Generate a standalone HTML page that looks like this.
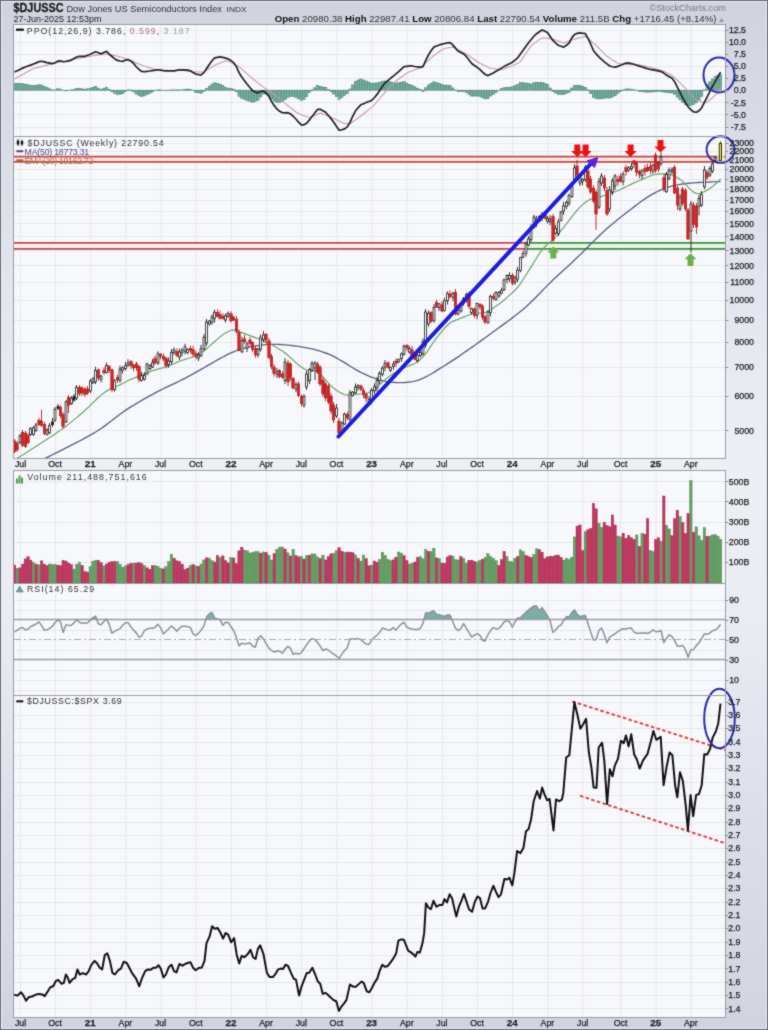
<!DOCTYPE html><html><head><meta charset="utf-8"><title>$DJUSSC Dow Jones US Semiconductors Index</title><style>html,body{margin:0;padding:0;background:#dcdfe8;}svg{display:block;}</style></head><body><svg width="768" height="1030" viewBox="0 0 768 1030" font-family="Liberation Sans, Arial, sans-serif" font-size="9.5" fill="#333"><defs><filter id="soft" x="0" y="0" width="1" height="1" color-interpolation-filters="sRGB"><feConvolveMatrix order="3" kernelMatrix="1 2 1 2 16 2 1 2 1" divisor="28" edgeMode="duplicate"/></filter><clipPath id="cppo"><rect x="14" y="25" width="711" height="111"/></clipPath><clipPath id="cpr"><rect x="14" y="137" width="711" height="321"/></clipPath><clipPath id="cvol"><rect x="14" y="471" width="711" height="112"/></clipPath><clipPath id="crsi"><rect x="14" y="584" width="711" height="111"/></clipPath><clipPath id="crat"><rect x="14" y="696" width="711" height="321"/></clipPath></defs><g filter="url(#soft)"><linearGradient id="bgg" x1="0" y1="0" x2="0" y2="1"><stop offset="0" stop-color="#d0d3de"/><stop offset="0.05" stop-color="#d4d7e2"/><stop offset="0.29" stop-color="#e3e6ee"/><stop offset="0.45" stop-color="#edeff5"/><stop offset="0.6" stop-color="#eaecf3"/><stop offset="0.78" stop-color="#dde0ea"/><stop offset="0.97" stop-color="#d3d6e1"/><stop offset="1" stop-color="#d0d3de"/></linearGradient><rect x="0" y="0" width="768" height="1030" fill="url(#bgg)"/><rect x="0.5" y="0.5" width="767" height="1029" fill="none" stroke="#666b78" stroke-width="1"/><rect x="1.5" y="1.5" width="765" height="1027" fill="none" stroke="#eceef3" stroke-width="1"/><rect x="13.5" y="24.5" width="712.0" height="112.0" fill="#f7f8fb"/><rect x="13.5" y="136.5" width="712.0" height="322.0" fill="#f7f8fb"/><rect x="13.5" y="470.5" width="712.0" height="113.0" fill="#f7f8fb"/><rect x="13.5" y="583.5" width="712.0" height="112.0" fill="#f7f8fb"/><rect x="13.5" y="695.5" width="712.0" height="322.0" fill="#f7f8fb"/><g stroke="#e6e7ec" stroke-width="1"><line x1="20.33" y1="24.5" x2="20.33" y2="136.5"/><line x1="55.5" y1="24.5" x2="55.5" y2="136.5"/><line x1="90.67" y1="24.5" x2="90.67" y2="136.5"/><line x1="125.83" y1="24.5" x2="125.83" y2="136.5"/><line x1="161" y1="24.5" x2="161" y2="136.5"/><line x1="196.17" y1="24.5" x2="196.17" y2="136.5"/><line x1="231.34" y1="24.5" x2="231.34" y2="136.5"/><line x1="266.51" y1="24.5" x2="266.51" y2="136.5"/><line x1="301.68" y1="24.5" x2="301.68" y2="136.5"/><line x1="336.85" y1="24.5" x2="336.85" y2="136.5"/><line x1="372.02" y1="24.5" x2="372.02" y2="136.5"/><line x1="407.19" y1="24.5" x2="407.19" y2="136.5"/><line x1="442.35" y1="24.5" x2="442.35" y2="136.5"/><line x1="477.52" y1="24.5" x2="477.52" y2="136.5"/><line x1="512.69" y1="24.5" x2="512.69" y2="136.5"/><line x1="547.86" y1="24.5" x2="547.86" y2="136.5"/><line x1="583.03" y1="24.5" x2="583.03" y2="136.5"/><line x1="620.9" y1="24.5" x2="620.9" y2="136.5"/><line x1="656.07" y1="24.5" x2="656.07" y2="136.5"/><line x1="691.24" y1="24.5" x2="691.24" y2="136.5"/></g><g stroke="#e6e7ec" stroke-width="1"><line x1="13.5" y1="30.5" x2="725.5" y2="30.5"/><line x1="13.5" y1="42.5" x2="725.5" y2="42.5"/><line x1="13.5" y1="54.5" x2="725.5" y2="54.5"/><line x1="13.5" y1="66.5" x2="725.5" y2="66.5"/><line x1="13.5" y1="78.5" x2="725.5" y2="78.5"/><line x1="13.5" y1="90.5" x2="725.5" y2="90.5"/><line x1="13.5" y1="102.5" x2="725.5" y2="102.5"/><line x1="13.5" y1="114.5" x2="725.5" y2="114.5"/><line x1="13.5" y1="127.5" x2="725.5" y2="127.5"/></g><g clip-path="url(#cppo)"><g fill="#79b3a3" stroke="#3f7a68" stroke-width="0.55"><rect x="13.42" y="83.2" width="2.2" height="7"/><rect x="16.12" y="83.38" width="2.2" height="6.82"/><rect x="18.83" y="83.58" width="2.2" height="6.62"/><rect x="21.53" y="83.77" width="2.2" height="6.43"/><rect x="24.24" y="84.15" width="2.2" height="6.05"/><rect x="26.94" y="84.74" width="2.2" height="5.46"/><rect x="29.65" y="85.33" width="2.2" height="4.87"/><rect x="32.35" y="85.71" width="2.2" height="4.49"/><rect x="35.06" y="85.23" width="2.2" height="4.97"/><rect x="37.76" y="84.74" width="2.2" height="5.46"/><rect x="40.47" y="84.98" width="2.2" height="5.22"/><rect x="43.18" y="86.3" width="2.2" height="3.9"/><rect x="45.88" y="87.63" width="2.2" height="2.57"/><rect x="48.59" y="88.83" width="2.2" height="1.37"/><rect x="51.29" y="89.9" width="2.2" height="0.6"/><rect x="54" y="89.83" width="2.2" height="0.37"/><rect x="56.7" y="88.82" width="2.2" height="1.38"/><rect x="59.41" y="89" width="2.2" height="1.2"/><rect x="62.11" y="90.2" width="2.2" height="0.32"/><rect x="64.82" y="90.2" width="2.2" height="0.62"/><rect x="67.52" y="90.2" width="2.2" height="0.51"/><rect x="70.23" y="89.9" width="2.2" height="0.6"/><rect x="72.93" y="89.48" width="2.2" height="0.72"/><rect x="75.64" y="88.5" width="2.2" height="1.7"/><rect x="78.34" y="88.33" width="2.2" height="1.87"/><rect x="81.05" y="88.82" width="2.2" height="1.38"/><rect x="83.75" y="89.28" width="2.2" height="0.92"/><rect x="86.46" y="88.76" width="2.2" height="1.44"/><rect x="89.17" y="88.13" width="2.2" height="2.07"/><rect x="91.87" y="87.29" width="2.2" height="2.91"/><rect x="94.58" y="86.6" width="2.2" height="3.6"/><rect x="97.28" y="88.11" width="2.2" height="2.09"/><rect x="99.99" y="89.63" width="2.2" height="0.57"/><rect x="102.69" y="88.66" width="2.2" height="1.54"/><rect x="105.4" y="87.21" width="2.2" height="2.99"/><rect x="108.1" y="89.49" width="2.2" height="0.71"/><rect x="110.81" y="90.2" width="2.2" height="1.38"/><rect x="113.51" y="90.2" width="2.2" height="3.21"/><rect x="116.22" y="90.2" width="2.2" height="4.29"/><rect x="118.92" y="90.2" width="2.2" height="4"/><rect x="121.63" y="90.2" width="2.2" height="3.56"/><rect x="124.33" y="90.2" width="2.2" height="1.41"/><rect x="127.04" y="89.9" width="2.2" height="0.6"/><rect x="129.74" y="89.9" width="2.2" height="0.6"/><rect x="132.45" y="90.2" width="2.2" height="1.66"/><rect x="135.16" y="90.2" width="2.2" height="3.8"/><rect x="137.86" y="90.2" width="2.2" height="5.37"/><rect x="140.57" y="90.2" width="2.2" height="6.3"/><rect x="143.27" y="90.2" width="2.2" height="5.68"/><rect x="145.98" y="90.2" width="2.2" height="4.41"/><rect x="148.68" y="90.2" width="2.2" height="3.15"/><rect x="151.39" y="90.2" width="2.2" height="1.81"/><rect x="154.09" y="90.2" width="2.2" height="0.45"/><rect x="156.8" y="89.9" width="2.2" height="0.6"/><rect x="159.5" y="89.9" width="2.2" height="0.6"/><rect x="162.21" y="90.2" width="2.2" height="0.45"/><rect x="164.91" y="90.2" width="2.2" height="0.51"/><rect x="167.62" y="90.2" width="2.2" height="0.34"/><rect x="170.32" y="89.9" width="2.2" height="0.6"/><rect x="173.03" y="89.9" width="2.2" height="0.6"/><rect x="175.73" y="89.9" width="2.2" height="0.6"/><rect x="178.44" y="89.9" width="2.2" height="0.6"/><rect x="181.15" y="89.88" width="2.2" height="0.32"/><rect x="183.85" y="89.49" width="2.2" height="0.71"/><rect x="186.56" y="89.1" width="2.2" height="1.1"/><rect x="189.26" y="89.24" width="2.2" height="0.96"/><rect x="191.97" y="90.2" width="2.2" height="0.4"/><rect x="194.67" y="90.2" width="2.2" height="2.02"/><rect x="197.38" y="90.2" width="2.2" height="2.65"/><rect x="200.08" y="90.2" width="2.2" height="2.97"/><rect x="202.79" y="90.2" width="2.2" height="0.95"/><rect x="205.49" y="88.61" width="2.2" height="1.59"/><rect x="208.2" y="86.23" width="2.2" height="3.97"/><rect x="210.9" y="84.08" width="2.2" height="6.12"/><rect x="213.61" y="82.79" width="2.2" height="7.41"/><rect x="216.31" y="83.5" width="2.2" height="6.7"/><rect x="219.02" y="84.13" width="2.2" height="6.07"/><rect x="221.72" y="85.6" width="2.2" height="4.6"/><rect x="224.43" y="87.48" width="2.2" height="2.72"/><rect x="227.14" y="88.14" width="2.2" height="2.06"/><rect x="229.84" y="88.42" width="2.2" height="1.78"/><rect x="232.55" y="89.16" width="2.2" height="1.04"/><rect x="235.25" y="90.2" width="2.2" height="1.56"/><rect x="237.96" y="90.2" width="2.2" height="6.11"/><rect x="240.66" y="90.2" width="2.2" height="8"/><rect x="243.37" y="90.2" width="2.2" height="9.2"/><rect x="246.07" y="90.2" width="2.2" height="10.35"/><rect x="248.78" y="90.2" width="2.2" height="11.13"/><rect x="251.48" y="90.2" width="2.2" height="12.13"/><rect x="254.19" y="90.2" width="2.2" height="11.39"/><rect x="256.89" y="90.2" width="2.2" height="9.95"/><rect x="259.6" y="90.2" width="2.2" height="6.72"/><rect x="262.3" y="90.2" width="2.2" height="3.87"/><rect x="265.01" y="90.2" width="2.2" height="3.99"/><rect x="267.71" y="90.2" width="2.2" height="5.25"/><rect x="270.42" y="90.2" width="2.2" height="8.77"/><rect x="273.13" y="90.2" width="2.2" height="10.94"/><rect x="275.83" y="90.2" width="2.2" height="12.05"/><rect x="278.54" y="90.2" width="2.2" height="12.28"/><rect x="281.24" y="90.2" width="2.2" height="11.44"/><rect x="283.95" y="90.2" width="2.2" height="9.53"/><rect x="286.65" y="90.2" width="2.2" height="7.19"/><rect x="289.36" y="90.2" width="2.2" height="6.24"/><rect x="292.06" y="90.2" width="2.2" height="6.47"/><rect x="294.77" y="90.2" width="2.2" height="7.04"/><rect x="297.47" y="90.2" width="2.2" height="8.69"/><rect x="300.18" y="90.2" width="2.2" height="10.16"/><rect x="302.88" y="90.2" width="2.2" height="9.07"/><rect x="305.59" y="90.2" width="2.2" height="6.41"/><rect x="308.29" y="90.2" width="2.2" height="2.41"/><rect x="311" y="89.9" width="2.2" height="0.6"/><rect x="313.71" y="87.85" width="2.2" height="2.35"/><rect x="316.41" y="85.39" width="2.2" height="4.81"/><rect x="319.12" y="86.4" width="2.2" height="3.8"/><rect x="321.82" y="86.98" width="2.2" height="3.22"/><rect x="324.53" y="87.46" width="2.2" height="2.74"/><rect x="327.23" y="89.55" width="2.2" height="0.65"/><rect x="329.94" y="90.2" width="2.2" height="1.43"/><rect x="332.64" y="90.2" width="2.2" height="3.81"/><rect x="335.35" y="90.2" width="2.2" height="6.44"/><rect x="338.05" y="90.2" width="2.2" height="9.08"/><rect x="340.76" y="90.2" width="2.2" height="7.27"/><rect x="343.46" y="90.2" width="2.2" height="5.3"/><rect x="346.17" y="90.2" width="2.2" height="3.28"/><rect x="348.87" y="89.04" width="2.2" height="1.16"/><rect x="351.58" y="84.89" width="2.2" height="5.31"/><rect x="354.28" y="81.45" width="2.2" height="8.75"/><rect x="356.99" y="80.08" width="2.2" height="10.12"/><rect x="359.7" y="78.95" width="2.2" height="11.25"/><rect x="362.4" y="79.93" width="2.2" height="10.27"/><rect x="365.11" y="81" width="2.2" height="9.2"/><rect x="367.81" y="82.11" width="2.2" height="8.09"/><rect x="370.52" y="83.23" width="2.2" height="6.97"/><rect x="373.22" y="83.02" width="2.2" height="7.18"/><rect x="375.93" y="82.92" width="2.2" height="7.28"/><rect x="378.63" y="82.24" width="2.2" height="7.96"/><rect x="381.34" y="81.19" width="2.2" height="9.01"/><rect x="384.04" y="80.97" width="2.2" height="9.23"/><rect x="386.75" y="81.43" width="2.2" height="8.77"/><rect x="389.45" y="81.88" width="2.2" height="8.32"/><rect x="392.16" y="82.43" width="2.2" height="7.77"/><rect x="394.86" y="83" width="2.2" height="7.2"/><rect x="397.57" y="82.8" width="2.2" height="7.4"/><rect x="400.27" y="82.18" width="2.2" height="8.02"/><rect x="402.98" y="81.71" width="2.2" height="8.49"/><rect x="405.69" y="83.22" width="2.2" height="6.98"/><rect x="408.39" y="84.41" width="2.2" height="5.79"/><rect x="411.1" y="85.39" width="2.2" height="4.81"/><rect x="413.8" y="86.87" width="2.2" height="3.33"/><rect x="416.51" y="88.25" width="2.2" height="1.95"/><rect x="419.21" y="89.41" width="2.2" height="0.79"/><rect x="421.92" y="90.2" width="2.2" height="1.27"/><rect x="424.62" y="87.83" width="2.2" height="2.37"/><rect x="427.33" y="84.98" width="2.2" height="5.22"/><rect x="430.03" y="83.26" width="2.2" height="6.94"/><rect x="432.74" y="81.83" width="2.2" height="8.37"/><rect x="435.44" y="82.65" width="2.2" height="7.55"/><rect x="438.15" y="83.46" width="2.2" height="6.74"/><rect x="440.85" y="84.56" width="2.2" height="5.64"/><rect x="443.56" y="85.31" width="2.2" height="4.89"/><rect x="446.26" y="85.1" width="2.2" height="5.1"/><rect x="448.97" y="85.36" width="2.2" height="4.84"/><rect x="451.68" y="87.98" width="2.2" height="2.22"/><rect x="454.38" y="89.9" width="2.2" height="0.6"/><rect x="457.09" y="90.2" width="2.2" height="1.49"/><rect x="459.79" y="90.2" width="2.2" height="1.4"/><rect x="462.5" y="90.2" width="2.2" height="1.32"/><rect x="465.2" y="90.2" width="2.2" height="2.44"/><rect x="467.91" y="90.2" width="2.2" height="4.24"/><rect x="470.61" y="90.2" width="2.2" height="5.89"/><rect x="473.32" y="90.2" width="2.2" height="5.93"/><rect x="476.02" y="90.2" width="2.2" height="5.85"/><rect x="478.73" y="90.2" width="2.2" height="6.27"/><rect x="481.43" y="90.2" width="2.2" height="7.63"/><rect x="484.14" y="90.2" width="2.2" height="8.67"/><rect x="486.84" y="90.2" width="2.2" height="8.42"/><rect x="489.55" y="90.2" width="2.2" height="5.81"/><rect x="492.25" y="90.2" width="2.2" height="4.2"/><rect x="494.96" y="90.2" width="2.2" height="2.29"/><rect x="497.67" y="90.2" width="2.2" height="0.38"/><rect x="500.37" y="88.7" width="2.2" height="1.5"/><rect x="503.08" y="87.76" width="2.2" height="2.44"/><rect x="505.78" y="87.45" width="2.2" height="2.75"/><rect x="508.49" y="87.18" width="2.2" height="3.02"/><rect x="511.19" y="86.74" width="2.2" height="3.46"/><rect x="513.9" y="85.72" width="2.2" height="4.48"/><rect x="516.6" y="84.72" width="2.2" height="5.48"/><rect x="519.31" y="82.54" width="2.2" height="7.66"/><rect x="522.01" y="82.79" width="2.2" height="7.41"/><rect x="524.72" y="83.08" width="2.2" height="7.12"/><rect x="527.42" y="83.43" width="2.2" height="6.77"/><rect x="530.13" y="83.99" width="2.2" height="6.21"/><rect x="532.83" y="82.75" width="2.2" height="7.45"/><rect x="535.54" y="82.31" width="2.2" height="7.89"/><rect x="538.24" y="82.41" width="2.2" height="7.79"/><rect x="540.95" y="82.54" width="2.2" height="7.66"/><rect x="543.66" y="83.32" width="2.2" height="6.88"/><rect x="546.36" y="84.28" width="2.2" height="5.92"/><rect x="549.07" y="87.99" width="2.2" height="2.21"/><rect x="551.77" y="90.2" width="2.2" height="1.44"/><rect x="554.48" y="90.2" width="2.2" height="2.84"/><rect x="557.18" y="90.2" width="2.2" height="4.24"/><rect x="559.89" y="90.2" width="2.2" height="4.18"/><rect x="562.59" y="90.2" width="2.2" height="4.1"/><rect x="565.3" y="90.2" width="2.2" height="3.1"/><rect x="568" y="90.2" width="2.2" height="2.07"/><rect x="570.71" y="88" width="2.2" height="2.2"/><rect x="573.41" y="85.56" width="2.2" height="4.64"/><rect x="576.12" y="85.19" width="2.2" height="5.01"/><rect x="578.82" y="85.38" width="2.2" height="4.82"/><rect x="581.53" y="86.39" width="2.2" height="3.81"/><rect x="584.24" y="87.4" width="2.2" height="2.8"/><rect x="586.94" y="89.9" width="2.2" height="0.6"/><rect x="589.65" y="90.2" width="2.2" height="3.43"/><rect x="592.35" y="90.2" width="2.2" height="7.34"/><rect x="595.06" y="90.2" width="2.2" height="8.4"/><rect x="597.76" y="90.2" width="2.2" height="8.75"/><rect x="600.47" y="90.2" width="2.2" height="8.55"/><rect x="603.17" y="90.2" width="2.2" height="8.26"/><rect x="605.88" y="90.2" width="2.2" height="7.68"/><rect x="608.58" y="90.2" width="2.2" height="7.85"/><rect x="611.29" y="90.2" width="2.2" height="6.87"/><rect x="613.99" y="90.2" width="2.2" height="5.57"/><rect x="616.7" y="90.2" width="2.2" height="3.14"/><rect x="619.4" y="90.2" width="2.2" height="1.51"/><rect x="622.11" y="89.9" width="2.2" height="0.6"/><rect x="624.81" y="89.06" width="2.2" height="1.14"/><rect x="627.52" y="88.86" width="2.2" height="1.34"/><rect x="630.23" y="89.1" width="2.2" height="1.1"/><rect x="632.93" y="89.75" width="2.2" height="0.45"/><rect x="635.64" y="90.2" width="2.2" height="0.35"/><rect x="638.34" y="90.2" width="2.2" height="1.15"/><rect x="641.05" y="90.2" width="2.2" height="1.55"/><rect x="643.75" y="90.2" width="2.2" height="1.76"/><rect x="646.46" y="90.2" width="2.2" height="1.98"/><rect x="649.16" y="90.2" width="2.2" height="1.91"/><rect x="651.87" y="90.2" width="2.2" height="1.69"/><rect x="654.57" y="90.2" width="2.2" height="1.47"/><rect x="657.28" y="90.2" width="2.2" height="1.39"/><rect x="659.98" y="90.2" width="2.2" height="1.4"/><rect x="662.69" y="90.2" width="2.2" height="1.78"/><rect x="665.39" y="90.2" width="2.2" height="2.43"/><rect x="668.1" y="90.2" width="2.2" height="2.72"/><rect x="670.8" y="90.2" width="2.2" height="2.71"/><rect x="673.51" y="90.2" width="2.2" height="4.2"/><rect x="676.22" y="90.2" width="2.2" height="6.88"/><rect x="678.92" y="90.2" width="2.2" height="9.58"/><rect x="681.63" y="90.2" width="2.2" height="12.31"/><rect x="684.33" y="90.2" width="2.2" height="14.22"/><rect x="687.04" y="90.2" width="2.2" height="15.27"/><rect x="689.74" y="90.2" width="2.2" height="15.29"/><rect x="692.45" y="90.2" width="2.2" height="14.26"/><rect x="695.15" y="90.2" width="2.2" height="12.6"/><rect x="697.86" y="90.2" width="2.2" height="10.21"/><rect x="700.56" y="90.2" width="2.2" height="6.11"/><rect x="703.27" y="89.9" width="2.2" height="0.6"/><rect x="705.97" y="84.88" width="2.2" height="5.32"/><rect x="708.68" y="81.8" width="2.2" height="8.4"/><rect x="711.38" y="79.02" width="2.2" height="11.18"/><rect x="714.09" y="76.68" width="2.2" height="13.52"/><rect x="716.79" y="75.07" width="2.2" height="15.13"/><rect x="719.5" y="74.7" width="2.2" height="15.5"/></g><polyline points="14.52,79 17.22,77.58 19.93,76.06 22.63,74.55 25.34,73.03 28.04,71.51 30.75,69.99 33.45,68.49 36.16,67.82 38.86,67.15 41.57,66.48 44.28,65.82 46.98,65.15 49.69,64.48 52.39,63.81 55.1,63.15 57.8,62.52 60.51,61.98 63.21,61.43 65.92,60.89 68.62,60.35 71.33,59.8 74.03,59.26 76.74,58.72 79.44,58.17 82.15,57.68 84.85,57.22 87.56,56.76 90.27,56.3 92.97,55.83 95.68,55.37 98.38,54.91 101.09,54.45 103.79,54.01 106.5,54.38 109.2,54.75 111.91,55.11 114.61,55.48 117.32,56.16 120.02,56.99 122.73,57.82 125.43,58.66 128.14,59.59 130.84,60.71 133.55,61.83 136.26,62.95 138.96,64.07 141.67,65.16 144.37,66.06 147.08,66.96 149.78,67.86 152.49,68.76 155.19,69.66 157.9,69.87 160.6,70.04 163.31,70.21 166.01,70.39 168.72,70.56 171.42,70.73 174.13,70.87 176.83,70.33 179.54,69.79 182.25,70.14 184.95,70.67 187.66,71.21 190.36,71.74 193.07,72 195.77,72 198.48,72 201.18,72 203.89,71.71 206.59,70.11 209.3,68.5 212,66.9 214.71,65.29 217.41,64.11 220.12,63.02 222.82,61.94 225.53,60.85 228.24,60.97 230.94,62.34 233.65,63.7 236.35,65.07 239.06,66.61 241.76,69.04 244.47,71.47 247.17,73.89 249.88,76.32 252.58,78.53 255.29,80.71 257.99,82.88 260.7,85.05 263.4,87.08 266.11,88.98 268.81,90.88 271.52,92.77 274.23,94.72 276.93,96.87 279.64,99.03 282.34,101.18 285.05,103.34 287.75,105.49 290.46,107.64 293.16,109.79 295.87,111.94 298.57,113.55 301.28,114.64 303.98,115.73 306.69,116.81 309.39,117.5 312.1,116.41 314.81,115.33 317.51,114.24 320.22,113.15 322.92,113.93 325.63,115.02 328.33,116.11 331.04,117.19 333.74,118.43 336.45,119.79 339.15,121.16 341.86,122.52 344.56,123.6 347.27,123.6 349.97,123.6 352.68,121.72 355.38,119.83 358.09,117.93 360.8,116.03 363.5,113.95 366.21,111.78 368.91,109.61 371.62,107.43 374.32,104.91 377.03,101.7 379.73,98.49 382.44,95.28 385.14,92.07 387.85,89.33 390.55,86.6 393.26,83.87 395.96,81.14 398.67,78.96 401.37,77.06 404.08,75.17 406.79,73.27 409.49,71.7 412.2,70.77 414.9,69.85 417.61,68.92 420.31,67.99 423.02,65.4 425.72,62.81 428.43,60.22 431.13,57.63 433.84,55.51 436.54,53.62 439.25,51.72 441.95,49.82 444.66,48.44 447.36,47.98 450.07,47.52 452.78,47.06 455.48,48.27 458.19,49.71 460.89,51.14 463.6,52.58 466.3,54.02 469.01,55.77 471.71,57.66 474.42,59.56 477.12,61.45 479.83,63.16 482.53,64.5 485.24,65.84 487.94,67.18 490.65,68.51 493.35,68.78 496.06,69.06 498.77,69.34 501.47,69.61 504.18,68.95 506.88,67.86 509.59,66.77 512.29,65.69 515,64.55 517.7,63.33 520.41,61.69 523.11,57.62 525.82,53.55 528.52,49.48 531.23,45.65 533.93,43.64 536.64,41.62 539.34,39.6 542.05,37.72 544.76,38.04 547.46,38.36 550.17,38.69 552.87,39.03 555.58,40.03 558.28,41.04 560.99,42.05 563.69,43.06 566.4,42.12 569.1,41.11 571.81,40.09 574.51,39.07 577.22,38.38 579.92,37.71 582.63,37.04 585.34,36.37 588.04,38.43 590.75,40.79 593.45,43.15 596.16,45.51 598.86,48.16 601.57,50.87 604.27,53.57 606.98,56.28 609.68,58.16 612.39,59.85 615.09,61.54 617.8,63.22 620.5,63.77 623.21,63.99 625.91,64.21 628.62,64.44 631.33,64.59 634.03,64.71 636.74,64.84 639.44,64.96 642.15,65.46 644.85,66.14 647.56,66.81 650.26,67.49 652.97,68.17 655.67,68.85 658.38,69.54 661.08,70.22 663.79,71.3 666.49,72.67 669.2,74.03 671.9,75.4 674.61,77.5 677.32,80.18 680.02,82.86 682.73,85.54 685.43,88.4 688.14,91.45 690.84,94.51 693.55,97.56 696.25,99.67 698.96,100.68 701.66,101.68 704.37,102.69 707.07,102.35 709.78,99.97 712.48,97.59 715.19,95.21 717.89,92.06 720.6,87.6" fill="none" stroke="#c99aa6" stroke-width="1.1"/><polyline points="14.52,72 17.22,70.77 19.93,69.44 22.63,68.12 25.34,66.98 28.04,66.05 30.75,65.12 33.45,64 36.16,62.85 38.86,61.7 41.57,61.26 44.28,61.92 46.98,62.57 49.69,63.11 52.39,63.61 55.1,62.78 57.8,61.14 60.51,60.77 63.21,61.75 65.92,61.51 68.62,60.85 71.33,60.06 74.03,58.53 76.74,57.01 79.44,56.3 82.15,56.3 84.85,56.3 87.56,55.32 90.27,54.23 92.97,52.92 95.68,51.77 98.38,52.82 101.09,53.88 103.79,52.47 106.5,51.39 109.2,54.04 111.91,56.5 114.61,58.69 117.32,60.45 120.02,61 122.73,61.39 125.43,60.06 128.14,59.66 130.84,60.98 133.55,63.49 136.26,66.76 138.96,69.44 141.67,71.45 144.37,71.74 147.08,71.37 149.78,71.01 152.49,70.58 155.19,70.11 157.9,69.75 160.6,70.21 163.31,70.66 166.01,70.9 168.72,70.9 171.42,70.9 174.13,70.87 176.83,70.33 179.54,69.79 182.25,69.82 184.95,69.96 187.66,70.11 190.36,70.78 193.07,72.4 195.77,74.02 198.48,74.65 201.18,74.97 203.89,72.66 206.59,68.51 209.3,64.53 212,60.77 214.71,57.88 217.41,57.41 220.12,56.95 222.82,57.33 225.53,58.13 228.24,58.92 230.94,60.56 233.65,62.67 236.35,66.62 239.06,72.72 241.76,77.03 244.47,80.67 247.17,84.24 249.88,87.45 252.58,90.66 255.29,92.09 257.99,92.83 260.7,91.77 263.4,90.95 266.11,92.97 268.81,96.13 271.52,101.54 274.23,105.66 276.93,108.93 279.64,111.3 282.34,112.63 285.05,112.87 287.75,112.68 290.46,113.88 293.16,116.26 295.87,118.99 298.57,122.24 301.28,124.8 303.98,124.8 306.69,123.22 309.39,119.91 312.1,116.52 314.81,112.98 317.51,109.43 320.22,109.36 322.92,110.71 325.63,112.28 328.33,115.45 331.04,118.62 333.74,122.23 336.45,126.23 339.15,130.23 341.86,129.79 344.56,128.9 347.27,126.88 349.97,122.44 352.68,116.41 355.38,111.07 358.09,107.81 360.8,104.78 363.5,103.68 366.21,102.58 368.91,101.52 371.62,100.47 374.32,97.73 377.03,94.41 379.73,90.53 382.44,86.26 385.14,82.84 387.85,80.56 390.55,78.28 393.26,76.1 395.96,73.95 398.67,71.56 401.37,69.05 404.08,66.67 406.79,66.29 409.49,65.9 412.2,65.96 414.9,66.51 417.61,66.97 420.31,67.2 423.02,66.67 425.72,60.44 428.43,55 431.13,50.69 433.84,47.14 436.54,46.06 439.25,44.98 441.95,44.18 444.66,43.54 447.36,42.87 450.07,42.68 452.78,44.84 455.48,48.09 458.19,51.19 460.89,52.55 463.6,53.9 466.3,56.47 469.01,60.01 471.71,63.55 474.42,65.49 477.12,67.31 479.83,69.43 482.53,72.13 485.24,74.51 487.94,75.6 490.65,74.32 493.35,72.99 496.06,71.35 498.77,69.72 501.47,68.12 504.18,66.51 506.88,65.11 509.59,63.76 512.29,62.23 515,60.07 517.7,57.86 520.41,54.03 523.11,50.21 525.82,46.42 528.52,42.71 531.23,39.45 533.93,36.19 536.64,33.74 539.34,31.81 542.05,30.06 544.76,31.16 547.46,32.44 550.17,36.47 552.87,40.46 555.58,42.87 558.28,45.28 560.99,46.23 563.69,47.16 566.4,45.23 569.1,43.17 571.81,37.88 574.51,34.43 577.22,33.37 579.92,32.89 582.63,33.23 585.34,33.57 588.04,38.48 590.75,44.22 593.45,50.49 596.16,53.91 598.86,56.91 601.57,59.42 604.27,61.83 606.98,63.95 609.68,66.01 612.39,66.72 615.09,67.11 617.8,66.36 620.5,65.28 623.21,64.18 625.91,63.08 628.62,63.09 631.33,63.49 634.03,64.26 636.74,65.18 639.44,66.11 642.15,67.01 644.85,67.9 647.56,68.79 650.26,69.4 652.97,69.86 655.67,70.32 658.38,70.93 661.08,71.62 663.79,73.08 666.49,75.1 669.2,76.75 671.9,78.1 674.61,81.69 677.32,87.05 680.02,92.44 682.73,97.85 685.43,102.62 688.14,106.73 690.84,109.8 693.55,111.82 696.25,112.26 698.96,110.89 701.66,107.8 704.37,102.43 707.07,97.03 709.78,91.57 712.48,86.41 715.19,81.69 717.89,76.93 720.6,72.1" fill="none" stroke="#222" stroke-width="1.7" stroke-linejoin="round"/></g><g fill="#333"><rect x="16" y="28.6" width="7.8" height="2.2" fill="#111"/><text x="26.8" y="34" font-size="8.8" textLength="162.8" lengthAdjust="spacing" fill="#333">PPO(12,26,9) 3.786, <tspan fill="#b07080">0.599</tspan>, <tspan fill="#8aaa9a">3.187</tspan></text></g><ellipse cx="719" cy="75" rx="15.5" ry="17.5" fill="none" stroke="#2b2bb0" stroke-width="2"/><g stroke="#e6e7ec" stroke-width="1"><line x1="20.33" y1="136.5" x2="20.33" y2="458.5"/><line x1="55.5" y1="136.5" x2="55.5" y2="458.5"/><line x1="90.67" y1="136.5" x2="90.67" y2="458.5"/><line x1="125.83" y1="136.5" x2="125.83" y2="458.5"/><line x1="161" y1="136.5" x2="161" y2="458.5"/><line x1="196.17" y1="136.5" x2="196.17" y2="458.5"/><line x1="231.34" y1="136.5" x2="231.34" y2="458.5"/><line x1="266.51" y1="136.5" x2="266.51" y2="458.5"/><line x1="301.68" y1="136.5" x2="301.68" y2="458.5"/><line x1="336.85" y1="136.5" x2="336.85" y2="458.5"/><line x1="372.02" y1="136.5" x2="372.02" y2="458.5"/><line x1="407.19" y1="136.5" x2="407.19" y2="458.5"/><line x1="442.35" y1="136.5" x2="442.35" y2="458.5"/><line x1="477.52" y1="136.5" x2="477.52" y2="458.5"/><line x1="512.69" y1="136.5" x2="512.69" y2="458.5"/><line x1="547.86" y1="136.5" x2="547.86" y2="458.5"/><line x1="583.03" y1="136.5" x2="583.03" y2="458.5"/><line x1="620.9" y1="136.5" x2="620.9" y2="458.5"/><line x1="656.07" y1="136.5" x2="656.07" y2="458.5"/><line x1="691.24" y1="136.5" x2="691.24" y2="458.5"/></g><g stroke="#e6e7ec" stroke-width="1"><line x1="13.5" y1="430.5" x2="725.5" y2="430.5"/><line x1="13.5" y1="396.5" x2="725.5" y2="396.5"/><line x1="13.5" y1="367.5" x2="725.5" y2="367.5"/><line x1="13.5" y1="342.5" x2="725.5" y2="342.5"/><line x1="13.5" y1="320.5" x2="725.5" y2="320.5"/><line x1="13.5" y1="300.5" x2="725.5" y2="300.5"/><line x1="13.5" y1="282.5" x2="725.5" y2="282.5"/><line x1="13.5" y1="265.5" x2="725.5" y2="265.5"/><line x1="13.5" y1="250.5" x2="725.5" y2="250.5"/><line x1="13.5" y1="236.5" x2="725.5" y2="236.5"/><line x1="13.5" y1="223.5" x2="725.5" y2="223.5"/><line x1="13.5" y1="211.5" x2="725.5" y2="211.5"/><line x1="13.5" y1="200.5" x2="725.5" y2="200.5"/><line x1="13.5" y1="189.5" x2="725.5" y2="189.5"/><line x1="13.5" y1="179.5" x2="725.5" y2="179.5"/><line x1="13.5" y1="169.5" x2="725.5" y2="169.5"/><line x1="13.5" y1="160.5" x2="725.5" y2="160.5"/><line x1="13.5" y1="151.5" x2="725.5" y2="151.5"/><line x1="13.5" y1="143.5" x2="725.5" y2="143.5"/></g><g clip-path="url(#cpr)"><rect x="14" y="157" width="711" height="5" fill="#fbeaea"/><line x1="14" y1="156.7" x2="725" y2="156.7" stroke="#c84545" stroke-width="1.8"/><line x1="14" y1="161.8" x2="725" y2="161.8" stroke="#c84545" stroke-width="1.8"/><rect x="14" y="243" width="511" height="6" fill="#fcf1f1"/><rect x="525" y="243" width="200" height="6" fill="#e6f6e6"/><line x1="14" y1="242.9" x2="525" y2="242.9" stroke="#c84545" stroke-width="1.8"/><line x1="14" y1="248.9" x2="525" y2="248.9" stroke="#c84545" stroke-width="1.8"/><line x1="525" y1="242.9" x2="725" y2="242.9" stroke="#3f913f" stroke-width="1.8"/><line x1="525" y1="248.9" x2="725" y2="248.9" stroke="#3f913f" stroke-width="1.8"/><polyline points="38.86,461.56 41.57,460.19 44.28,458.83 46.98,457.47 49.69,456.11 52.39,454.76 55.1,453.4 57.8,452.05 60.51,450.7 63.21,449.34 65.92,447.97 68.62,446.6 71.33,445.21 74.03,443.82 76.74,442.42 79.44,441 82.15,439.56 84.85,438.09 87.56,436.61 90.27,435.12 92.97,433.61 95.68,432.01 98.38,430.29 101.09,428.48 103.79,426.58 106.5,424.59 109.2,422.51 111.91,420.42 114.61,418.32 117.32,416.21 120.02,414.18 122.73,412.23 125.43,410.36 128.14,408.58 130.84,406.87 133.55,405.25 136.26,403.63 138.96,402.02 141.67,400.41 144.37,398.84 147.08,397.31 149.78,395.8 152.49,394.32 155.19,392.87 157.9,391.46 160.6,390.08 163.31,388.76 166.01,387.45 168.72,386.17 171.42,384.89 174.13,383.61 176.83,382.3 179.54,380.99 182.25,379.65 184.95,378.28 187.66,376.88 190.36,375.44 193.07,373.96 195.77,372.43 198.48,370.88 201.18,369.33 203.89,367.76 206.59,366.19 209.3,364.62 212,363.05 214.71,361.5 217.41,359.96 220.12,358.45 222.82,356.99 225.53,355.58 228.24,354.2 230.94,352.92 233.65,351.76 236.35,350.72 239.06,349.77 241.76,348.94 244.47,348.19 247.17,347.51 249.88,346.91 252.58,346.42 255.29,345.99 257.99,345.58 260.7,345.21 263.4,344.89 266.11,344.61 268.81,344.42 271.52,344.32 274.23,344.32 276.93,344.36 279.64,344.46 282.34,344.6 285.05,344.8 287.75,345.06 290.46,345.39 293.16,345.72 295.87,346.07 298.57,346.45 301.28,346.87 303.98,347.34 306.69,347.85 309.39,348.38 312.1,348.95 314.81,349.59 317.51,350.31 320.22,351.13 322.92,352.03 325.63,352.99 328.33,354 331.04,355.16 333.74,356.47 336.45,357.92 339.15,359.48 341.86,361.07 344.56,362.69 347.27,364.33 349.97,366.01 352.68,367.71 355.38,369.34 358.09,370.86 360.8,372.28 363.5,373.58 366.21,374.82 368.91,376.01 371.62,377.09 374.32,378.08 377.03,378.97 379.73,379.78 382.44,380.5 385.14,381.1 387.85,381.59 390.55,381.97 393.26,382.25 395.96,382.46 398.67,382.59 401.37,382.59 404.08,382.47 406.79,382.28 409.49,382.02 412.2,381.69 414.9,381.14 417.61,380.38 420.31,379.41 423.02,378.24 425.72,376.93 428.43,375.52 431.13,373.99 433.84,372.35 436.54,370.62 439.25,368.92 441.95,367.24 444.66,365.55 447.36,363.87 450.07,362.17 452.78,360.42 455.48,358.64 458.19,356.82 460.89,354.96 463.6,353.06 466.3,351.16 469.01,349.26 471.71,347.36 474.42,345.45 477.12,343.53 479.83,341.59 482.53,339.65 485.24,337.69 487.94,335.72 490.65,333.75 493.35,331.76 496.06,329.78 498.77,327.8 501.47,325.84 504.18,323.88 506.88,321.93 509.59,319.94 512.29,317.9 515,315.83 517.7,313.7 520.41,311.51 523.11,309.27 525.82,306.91 528.52,304.44 531.23,301.84 533.93,299.18 536.64,296.46 539.34,293.69 542.05,290.92 544.76,288.15 547.46,285.39 550.17,282.69 552.87,280.05 555.58,277.47 558.28,274.95 560.99,272.5 563.69,270.09 566.4,267.65 569.1,265.17 571.81,262.66 574.51,260.1 577.22,257.52 579.92,254.89 582.63,252.23 585.34,249.54 588.04,246.82 590.75,244.09 593.45,241.36 596.16,238.68 598.86,236.06 601.57,233.51 604.27,231.02 606.98,228.59 609.68,226.22 612.39,223.91 615.09,221.67 617.8,219.5 620.5,217.34 623.21,215.21 625.91,213.09 628.62,211 631.33,208.92 634.03,206.86 636.74,204.8 639.44,202.76 642.15,200.76 644.85,198.87 647.56,197.09 650.26,195.4 652.97,193.81 655.67,192.34 658.38,191.01 661.08,189.83 663.79,188.78 666.49,187.83 669.2,186.97 671.9,186.19 674.61,185.51 677.32,184.92 680.02,184.4 682.73,183.96 685.43,183.58 688.14,183.28 690.84,183.05 693.55,182.85 696.25,182.67 698.96,182.51 701.66,182.36 704.37,182.24 707.07,182.12 709.78,182.01 712.48,181.89 715.19,181.8 717.89,181.7 720.6,181.6" fill="none" stroke="#5c5e86" stroke-width="1.35"/><polyline points="14.52,459.71 17.22,458.2 19.93,456.6 22.63,454.93 25.34,453.2 28.04,451.46 30.75,449.73 33.45,448 36.16,446.26 38.86,444.53 41.57,442.8 44.28,441.06 46.98,439.33 49.69,437.56 52.39,435.75 55.1,433.89 57.8,432.02 60.51,430.13 63.21,428.18 65.92,426.18 68.62,424.14 71.33,422.06 74.03,419.88 76.74,417.61 79.44,415.28 82.15,412.95 84.85,410.56 87.56,408.05 90.27,405.39 92.97,402.66 95.68,400.04 98.38,397.52 101.09,395.12 103.79,392.94 106.5,391.11 109.2,389.62 111.91,388.29 114.61,387.08 117.32,385.99 120.02,384.83 122.73,383.5 125.43,382.01 128.14,380.58 130.84,379.32 133.55,378.22 136.26,377.18 138.96,376.08 141.67,374.94 144.37,373.8 147.08,372.66 149.78,371.59 152.49,370.65 155.19,369.85 157.9,369.1 160.6,368.36 163.31,367.62 166.01,366.78 168.72,365.82 171.42,364.72 174.13,363.56 176.83,362.41 179.54,361.26 182.25,360.22 184.95,359.32 187.66,358.54 190.36,357.77 193.07,357 195.77,356.15 198.48,354.87 201.18,353.13 203.89,351.01 206.59,348.77 209.3,346.42 212,343.97 214.71,341.53 217.41,339.08 220.12,336.77 222.82,334.75 225.53,333.03 228.24,331.46 230.94,330.27 233.65,329.97 236.35,330.54 239.06,331.6 241.76,332.63 244.47,333.63 247.17,334.62 249.88,335.61 252.58,336.62 255.29,337.65 257.99,338.7 260.7,339.75 263.4,340.81 266.11,341.87 268.81,343.11 271.52,344.54 274.23,346.16 276.93,347.8 279.64,349.44 282.34,351.11 285.05,353.05 287.75,355.26 290.46,357.7 293.16,360.15 295.87,362.59 298.57,364.94 301.28,367.02 303.98,368.82 306.69,370.09 309.39,370.63 312.1,370.46 314.81,370.54 317.51,371.7 320.22,373.94 322.92,376.79 325.63,379.8 328.33,382.99 331.04,385.86 333.74,388.29 336.45,390.26 339.15,391.92 341.86,393.34 344.56,394.53 347.27,395.17 349.97,395.24 352.68,394.73 355.38,394.3 358.09,394.06 360.8,394 363.5,393.84 366.21,393.31 368.91,392.43 371.62,391.21 374.32,389.46 377.03,387.17 379.73,384.47 382.44,381.94 385.14,379.59 387.85,377.42 390.55,375.39 393.26,373.56 395.96,371.93 398.67,370.41 401.37,369.06 404.08,367.87 406.79,366.76 409.49,365.67 412.2,364.59 414.9,363.47 417.61,361.79 420.31,359.55 423.02,356.82 425.72,353.62 428.43,349.91 431.13,345.69 433.84,341.64 436.54,337.92 439.25,334.53 441.95,331.32 444.66,328.22 447.36,325.25 450.07,322.99 452.78,321.36 455.48,320.32 458.19,319.26 460.89,318.17 463.6,317.08 466.3,315.99 469.01,314.95 471.71,314.18 474.42,313.7 477.12,313.44 479.83,313.18 482.53,312.92 485.24,312.45 487.94,311.44 490.65,309.88 493.35,307.99 496.06,306.1 498.77,304.21 501.47,302.2 504.18,300 506.88,297.61 509.59,295.15 512.29,292.69 515,290.23 517.7,287.25 520.41,283.67 523.11,279.51 525.82,275.24 528.52,270.93 531.23,266.57 533.93,262.22 536.64,257.9 539.34,253.68 542.05,250 544.76,246.84 547.46,244.25 550.17,242.06 552.87,239.71 555.58,237.06 558.28,233.82 560.99,230.55 563.69,227.27 566.4,223.91 569.1,220.47 571.81,216.95 574.51,213.43 577.22,210.07 579.92,207.15 582.63,204.68 585.34,202.5 588.04,200.57 590.75,199.17 593.45,198.3 596.16,197.72 598.86,197.05 601.57,196.31 604.27,195.47 606.98,194.58 609.68,193.65 612.39,192.7 615.09,191.75 617.8,190.69 620.5,189.48 623.21,188.15 625.91,186.79 628.62,185.44 631.33,184.15 634.03,182.92 636.74,181.73 639.44,180.54 642.15,179.35 644.85,178.16 647.56,176.96 650.26,175.86 652.97,175.02 655.67,174.44 658.38,174.09 661.08,173.88 663.79,173.8 666.49,173.83 669.2,174.25 671.9,175.06 674.61,176.23 677.32,177.64 680.02,179.37 682.73,181.54 685.43,184.15 688.14,187.14 690.84,189.9 693.55,192.12 696.25,193.34 698.96,193.6 701.66,192.92 704.37,191.62 707.07,190.14 709.78,188.39 712.48,186.47 715.19,184.31 717.89,181.8 720.6,179" fill="none" stroke="#6aa46a" stroke-width="1.2"/><path d="M20 434V436M20 442.3V444M30.5 427V428.75M30.5 434.5V436M33.5 426V427.7M33.5 434.5V436M36 423V425M36 430.3V432M47 428.23V430.15M47 434.42V435.49M49.5 423V425.6M49.5 432.9V434M52.5 418V427M55 407V409.2M55 420.1V422M58 404V410M66 400V401.9M66 421.9V423M71.5 396V398.2M71.5 403.7V405M74 394V402M76.5 385V387.3M76.5 398.2V400M90.5 379V381M90.5 391V393M93 377V379M93 382.7V384M95.5 366.72V370.4M95.5 381.85V384.17M101 374.93V376.14M101 379.25V382.55M106.5 362.65V365.44M106.5 372.39V373.52M114.5 378.96V380.96M114.5 389.6V391.72M120 365.62V369.14M120 380.16V382.91M122.5 366.23V367.77M122.5 370.21V373.38M125.5 362.11V365.8M125.5 368.71V370.52M128 359.22V362.97M128 365.24V366.74M141.5 371.76V375.66M141.5 380.52V381.69M144.5 372.33V375.32M144.5 379.22V380.62M147 362.9V364.04M147 374.03V374.95M150 364.1V365.37M150 368.66V370.05M152.5 359.05V362.82M152.5 366.92V368.02M158 351.36V353.81M158 362.94V365.12M168.5 357.43V361.09M168.5 364.34V367.71M171.5 349.04V352.6M171.5 361.7V364.51M174 347.37V350.08M174 352.31V354.72M179.5 348.69V351.87M179.5 356.91V360.2M182 347.99V350.08M182 352.81V356.48M185 343.78V346.8M185 351.22V354.48M187.5 348.32V349.35M187.5 352.36V354.25M198.5 352.2V355.05M198.5 358.03V361.07M201 344.76V348.69M201 355.84V356.71M204 334.1V337.26M204 349.04V350.66M206.5 319V322M206.5 343V346M209.5 319.96V321.07M209.5 323.98V325.58M212 314.46V317.02M212 322.29V324.71M214.5 309.59V312.21M214.5 318.43V322.41M225.5 313.64V315.79M225.5 320.01V322.5M228 311.4V313.37M228 316.08V317.8M242 336.69V340.51M242 351.88V352.91M247 341.54V343.84M247 348.18V352.11M258 347.66V349.3M258 354.78V357.45M260.5 334.52V337.81M260.5 349.06V351.56M263.5 331.13V334.98M263.5 339.3V342.45M277 368.03V371.76M277 374.39V378M285 358V362M285 380.6V384M296 381.92V384.71M296 388.93V392.19M304 394.39V396.24M304 405.13V407.69M306.5 371V374M306.5 387V390M309.5 368V369.7M309.5 380.6V384M312 361V363.4M312 370V372M315 361V363M315 368V380M336.5 404V408M336.5 416V418M342 421.51V422.88M342 431.04V434.27M344.5 412.5V414.2M344.5 424.02V424.89M350 390.02V392.9M350 419.27V422.65M352.5 391.07V392.14M352.5 395.51V396.57M355.5 383.46V387.13M355.5 392.85V393.92M358 384.27V385.53M358 387.54V390.72M369 396.39V399.5M369 402.73V405.8M371.5 388.1V390.22M371.5 400.75V404.19M374.5 383.33V386.86M374.5 390.72V394.1M377 376.87V380.51M377 387.86V391.73M379.5 370.9V373.38M379.5 380.93V384.01M382.5 366V368.15M382.5 374.29V376.43M385 360.05V363.22M385 367.09V371.06M390.5 366.57V367.56M390.5 370.29V372.07M393.5 361.36V364.23M393.5 366.4V369.68M398.5 358.46V359.61M398.5 361.84V363.23M401.5 352.43V353.98M401.5 358.76V361.86M404 344.58V346.1M404 354.26V355.66M409.5 346.27V348.61M409.5 351.98V353.61M417.5 352.28V355.64M417.5 360.68V362.71M420.5 350.04V352.49M420.5 355.73V357.4M423 338.53V341.44M423 353.96V355.52M425.5 309V312M425.5 345V348M428.5 310.46V313.54M428.5 323.89V326.63M434 303.99V307.57M434 320.5V322.95M439 302.93V303.73M439 307.6V311.03M444.5 297.66V300.75M444.5 310.47V311.58M447.5 291.33V293.63M447.5 300.69V304.55M453 291.47V293.6M453 297.59V301.32M458 307.42V309.91M458 314.01V315.31M461 302.93V304.72M461 310.9V312.7M463.5 297.01V298.79M463.5 303.45V305.75M466.5 292.65V294.6M466.5 299.44V302.44M471.5 307.55V308.39M471.5 312.46V314.47M477 302.7V303.53M477 315.23V319.2M488 310.19V311.81M488 322.52V323.96M490.5 294.49V296.34M490.5 312.5V316.33M496 291.32V292.41M496 299.56V300.81M499 290.89V292.26M499 295.96V298.04M501.5 287.92V290.61M501.5 293.27V294.36M504 278.61V279.91M504 289.79V290.99M507 274.37V275.41M507 279.63V283.38M509.5 272.2V275.45M509.5 278.73V282.16M515 275.68V277.77M515 281.83V284.87M517.5 266.81V270.14M517.5 279.21V282.12M520.5 256.81V257.67M520.5 270.46V272.32M523 250.72V253.6M523 257.2V258.34M526 241.54V243.97M526 253.24V256.56M528.5 236.19V238.95M528.5 244.95V246.26M531 224.23V227.92M531 239.74V242.3M534 214.69V217.09M534 227.48V228.73M536.5 215.81V218.9M536.5 223.37V226.84M539.5 215.06V216.5M539.5 220.86V221.93M542 212.2V214.05M542 217.49V221.26M547.5 216.03V218.57M547.5 220.91V223.5M550 215.15V219.12M550 221.78V225.2M555.5 224.76V228.43M555.5 233.08V234.65M558.5 219V222M558.5 233.7V236M561 211.02V212.06M561 220.55V221.45M563.5 201.89V205.84M563.5 211.1V214.91M566.5 200.6V202.38M566.5 206.32V209.27M569 193.63V195.65M569 203.1V205.79M572 185.5V186.36M572 196.56V198M574.5 164V168M574.5 179V181M580 175V177.7M580 183V186M582.5 178.15V179.41M582.5 181.51V185.38M585.5 164.87V167.18M585.5 179.71V181.83M599 178V181.6M599 207V209M601.5 173V176M601.5 183V186M609.5 186V190M609.5 209V212M612.5 178V181M612.5 192V195M615 174V176M615 186V190M623 171.51V174.13M623 181.7V185.39M628.5 166.27V167.85M628.5 170.22V171.97M631.5 163.11V166.52M631.5 168.68V170.75M642 169.31V170.73M642 175.72V179.2M653 163.84V165.07M653 171.05V174.07M661 152.5V157M661 163.5V166M666.5 172V174.5M666.5 191.5V193M669 167.41V170.35M669 178.56V180.24M672 167.22V169.43M672 171.66V174.15M680 194V197M680 209V211M691 201V204M691 231V252.5M699 195V198.5M699 206.3V215.4M701.5 191V194.6M701.5 205V207M704.5 166V170M704.5 186.8V189M710 166V168.5M710 175V177M712.5 161V164M712.5 171V173M715 156V158M715 160.7V162M718 155V157.5M718 160.5V162" stroke="#222" stroke-width="0.9" fill="none"/><path d="M14.5 439V453M17 441V452M22.5 430V447M25.5 431V448M28 433V444M39 418V426M41.5 409.7V427M44.5 422V435M60.5 405V418M63 412V428M68.5 395V413M79.5 385V396M82 386V396M85 387V397M87.5 386V395M98.5 368.44V380.75M104 367.34V374.65M109 364.94V373.06M112 368.44V392.29M117.5 374.85V382.91M131 359.99V368.9M133.5 363.94V371.41M136.5 361.79V370.85M139 364.97V382.27M155 355.41V364.89M160.5 353.27V359.35M163.5 353.39V361.11M166 356.77V368.24M177 348.16V357.3M190.5 345.56V353.23M193 345.8V357.08M196 350.75V359.36M217.5 309.24V317.29M220 310.7V319.69M223 313.5V319.66M231 311.24V322.55M233.5 315.8V321.06M236.5 315.88V333.42M239 329.37V351.37M244.5 334.94V343.51M250 337.16V345.73M252.5 341.61V352.18M255.5 346.35V357.85M266 333.03V343.63M269 338.03V359.37M271.5 353.74V369.35M274 364.19V376.78M279.5 369.39V378.39M282.5 371.38V378.51M288 360V386M290.5 362.36V380.44M293 377.23V389.18M298.5 381.69V397.06M301.5 394.39V406.56M317.5 362V374M320 365V386M323 377V397M325.5 382V401M328.5 384V404M331 393V414M333.5 402V423M339 418V435M347.5 411.71V420.49M361 384.39V391.05M363.5 387.88V397.97M366 392.52V402.19M388 361.51V368.78M396 358.41V366.94M407 344.09V351.2M412 346.04V359.7M415 353.43V360.29M431 311.21V323.05M436.5 299.8V308.07M442 301.34V312.23M450 290.34V298.49M455.5 288.93V315.34M469 291.36V308.75M474.5 307.46V317.96M480 302.97V309.67M482.5 304.27V319.72M485 314.71V324.07M493.5 293.41V300.44M512.5 273.25V285.4M545 211.35V219.47M553 214V241.5M577 160V177M588 168V189M590.5 176V194M593.5 185V203M596 190V229.75M604.5 175V191M607 187V216M618 175.5V185.7M620.5 173.42V182.47M626 165.21V175.56M634 159.91V167.95M636.5 161.31V176.24M639.5 169.6V178.28M645 164.87V175.65M647.5 163.73V171.88M650.5 162.91V173.99M655.5 152.5V173M658.5 160.79V172.12M664 174V192M674.5 165V194M677.5 186V210M682.5 187V206M685.5 188V211M688 208V240M693.5 202V228M696.5 203V234M707 170V180" stroke="#b81818" stroke-width="0.9" fill="none"/><g fill="#fff" stroke="#1a1a1a" stroke-width="0.8"><rect x="19.05" y="436" width="1.9" height="6.3"/><rect x="29.55" y="428.75" width="1.9" height="5.75"/><rect x="32.55" y="427.7" width="1.9" height="6.8"/><rect x="35.05" y="425" width="1.9" height="5.3"/><rect x="46.05" y="430.15" width="1.9" height="4.27"/><rect x="48.55" y="425.6" width="1.9" height="7.3"/><rect x="51.55" y="422" width="1.9" height="2.7" fill="#1a1a1a"/><rect x="54.05" y="409.2" width="1.9" height="10.9"/><rect x="57.05" y="406.4" width="1.9" height="1.9" fill="#1a1a1a"/><rect x="65.05" y="401.9" width="1.9" height="20"/><rect x="70.55" y="398.2" width="1.9" height="5.5"/><rect x="73.05" y="396.4" width="1.9" height="3.6" fill="#1a1a1a"/><rect x="75.55" y="387.3" width="1.9" height="10.9"/><rect x="89.55" y="381" width="1.9" height="10"/><rect x="92.05" y="379" width="1.9" height="3.7"/><rect x="94.55" y="370.4" width="1.9" height="11.44"/><rect x="100.05" y="376.14" width="1.9" height="3.11"/><rect x="105.55" y="365.44" width="1.9" height="6.95"/><rect x="113.55" y="380.96" width="1.9" height="8.64"/><rect x="119.05" y="369.14" width="1.9" height="11.02"/><rect x="121.55" y="367.77" width="1.9" height="2.43"/><rect x="124.55" y="365.8" width="1.9" height="2.91"/><rect x="127.05" y="362.97" width="1.9" height="2.27"/><rect x="140.55" y="375.66" width="1.9" height="4.86"/><rect x="143.55" y="375.32" width="1.9" height="3.9"/><rect x="146.05" y="364.04" width="1.9" height="10"/><rect x="149.05" y="365.37" width="1.9" height="3.29"/><rect x="151.55" y="362.82" width="1.9" height="4.1"/><rect x="157.05" y="353.81" width="1.9" height="9.13"/><rect x="167.55" y="361.09" width="1.9" height="3.26"/><rect x="170.55" y="352.6" width="1.9" height="9.1"/><rect x="173.05" y="350.08" width="1.9" height="2.23"/><rect x="178.55" y="351.87" width="1.9" height="5.04"/><rect x="181.05" y="350.08" width="1.9" height="2.73"/><rect x="184.05" y="346.8" width="1.9" height="4.42"/><rect x="186.55" y="349.35" width="1.9" height="3.01"/><rect x="197.55" y="355.05" width="1.9" height="2.97"/><rect x="200.05" y="348.69" width="1.9" height="7.15"/><rect x="203.05" y="337.26" width="1.9" height="11.78"/><rect x="205.55" y="322" width="1.9" height="21"/><rect x="208.55" y="321.07" width="1.9" height="2.91"/><rect x="211.05" y="317.02" width="1.9" height="5.26"/><rect x="213.55" y="312.21" width="1.9" height="6.21"/><rect x="224.55" y="315.79" width="1.9" height="4.22"/><rect x="227.05" y="313.37" width="1.9" height="2.71"/><rect x="241.05" y="340.51" width="1.9" height="11.36"/><rect x="246.05" y="343.84" width="1.9" height="4.34"/><rect x="257.05" y="349.3" width="1.9" height="5.48"/><rect x="259.55" y="337.81" width="1.9" height="11.25"/><rect x="262.55" y="334.98" width="1.9" height="4.33"/><rect x="276.05" y="371.76" width="1.9" height="2.62"/><rect x="284.05" y="362" width="1.9" height="18.6"/><rect x="295.05" y="384.71" width="1.9" height="4.22"/><rect x="303.05" y="396.24" width="1.9" height="8.9"/><rect x="305.55" y="374" width="1.9" height="13"/><rect x="308.55" y="369.7" width="1.9" height="10.9"/><rect x="311.05" y="363.4" width="1.9" height="6.6"/><rect x="314.05" y="363" width="1.9" height="5"/><rect x="335.55" y="408" width="1.9" height="8"/><rect x="341.05" y="422.88" width="1.9" height="8.16"/><rect x="343.55" y="414.2" width="1.9" height="9.82"/><rect x="349.05" y="392.9" width="1.9" height="26.37"/><rect x="351.55" y="392.14" width="1.9" height="3.37"/><rect x="354.55" y="387.13" width="1.9" height="5.72"/><rect x="357.05" y="385.53" width="1.9" height="2"/><rect x="368.05" y="399.5" width="1.9" height="3.23"/><rect x="370.55" y="390.22" width="1.9" height="10.53"/><rect x="373.55" y="386.86" width="1.9" height="3.86"/><rect x="376.05" y="380.51" width="1.9" height="7.35"/><rect x="378.55" y="373.38" width="1.9" height="7.55"/><rect x="381.55" y="368.15" width="1.9" height="6.13"/><rect x="384.05" y="363.22" width="1.9" height="3.87"/><rect x="389.55" y="367.56" width="1.9" height="2.73"/><rect x="392.55" y="364.23" width="1.9" height="2.17"/><rect x="397.55" y="359.61" width="1.9" height="2.23"/><rect x="400.55" y="353.98" width="1.9" height="4.78"/><rect x="403.05" y="346.1" width="1.9" height="8.17"/><rect x="408.55" y="348.61" width="1.9" height="3.37"/><rect x="416.55" y="355.64" width="1.9" height="5.03"/><rect x="419.55" y="352.49" width="1.9" height="3.23"/><rect x="422.05" y="341.44" width="1.9" height="12.52"/><rect x="424.55" y="312" width="1.9" height="33"/><rect x="427.55" y="313.54" width="1.9" height="10.35"/><rect x="433.05" y="307.57" width="1.9" height="12.93"/><rect x="438.05" y="303.73" width="1.9" height="3.87"/><rect x="443.55" y="300.75" width="1.9" height="9.72"/><rect x="446.55" y="293.63" width="1.9" height="7.06"/><rect x="452.05" y="293.6" width="1.9" height="3.99"/><rect x="457.05" y="309.91" width="1.9" height="4.1"/><rect x="460.05" y="304.72" width="1.9" height="6.18"/><rect x="462.55" y="298.79" width="1.9" height="4.66"/><rect x="465.55" y="294.6" width="1.9" height="4.84"/><rect x="470.55" y="308.39" width="1.9" height="4.07"/><rect x="476.05" y="303.53" width="1.9" height="11.7"/><rect x="487.05" y="311.81" width="1.9" height="10.71"/><rect x="489.55" y="296.34" width="1.9" height="16.16"/><rect x="495.05" y="292.41" width="1.9" height="7.15"/><rect x="498.05" y="292.26" width="1.9" height="3.69"/><rect x="500.55" y="290.61" width="1.9" height="2.66"/><rect x="503.05" y="279.91" width="1.9" height="9.88"/><rect x="506.05" y="275.41" width="1.9" height="4.22"/><rect x="508.55" y="275.45" width="1.9" height="3.28"/><rect x="514.05" y="277.77" width="1.9" height="4.06"/><rect x="516.55" y="270.14" width="1.9" height="9.08"/><rect x="519.55" y="257.67" width="1.9" height="12.79"/><rect x="522.05" y="253.6" width="1.9" height="3.59"/><rect x="525.05" y="243.97" width="1.9" height="9.26"/><rect x="527.55" y="238.95" width="1.9" height="6"/><rect x="530.05" y="227.92" width="1.9" height="11.83"/><rect x="533.05" y="217.09" width="1.9" height="10.39"/><rect x="535.55" y="218.9" width="1.9" height="4.47"/><rect x="538.55" y="216.5" width="1.9" height="4.36"/><rect x="541.05" y="214.05" width="1.9" height="3.44"/><rect x="546.55" y="218.57" width="1.9" height="2.34"/><rect x="549.05" y="219.12" width="1.9" height="2.66"/><rect x="554.55" y="228.43" width="1.9" height="4.65"/><rect x="557.55" y="222" width="1.9" height="11.7"/><rect x="560.05" y="212.06" width="1.9" height="8.49"/><rect x="562.55" y="205.84" width="1.9" height="5.26"/><rect x="565.55" y="202.38" width="1.9" height="3.94"/><rect x="568.05" y="195.65" width="1.9" height="7.45"/><rect x="571.05" y="186.36" width="1.9" height="10.21"/><rect x="573.55" y="168" width="1.9" height="11"/><rect x="579.05" y="177.7" width="1.9" height="5.3"/><rect x="581.55" y="179.41" width="1.9" height="2.09"/><rect x="584.55" y="167.18" width="1.9" height="12.53"/><rect x="598.05" y="181.6" width="1.9" height="25.4"/><rect x="600.55" y="176" width="1.9" height="7"/><rect x="608.55" y="190" width="1.9" height="19"/><rect x="611.55" y="181" width="1.9" height="11"/><rect x="614.05" y="176" width="1.9" height="10"/><rect x="622.05" y="174.13" width="1.9" height="7.57"/><rect x="627.55" y="167.85" width="1.9" height="2.37"/><rect x="630.55" y="166.52" width="1.9" height="2.16"/><rect x="641.05" y="170.73" width="1.9" height="4.98"/><rect x="652.05" y="165.07" width="1.9" height="5.98"/><rect x="660.05" y="157" width="1.9" height="6.5"/><rect x="665.55" y="174.5" width="1.9" height="17"/><rect x="668.05" y="170.35" width="1.9" height="8.21"/><rect x="671.05" y="169.43" width="1.9" height="2.22"/><rect x="679.05" y="197" width="1.9" height="12"/><rect x="690.05" y="204" width="1.9" height="27"/><rect x="698.05" y="198.5" width="1.9" height="7.8"/><rect x="700.55" y="194.6" width="1.9" height="10.4"/><rect x="703.55" y="170" width="1.9" height="16.8"/><rect x="709.05" y="168.5" width="1.9" height="6.5"/><rect x="711.55" y="164" width="1.9" height="7"/><rect x="714.05" y="158" width="1.9" height="2.7"/><rect x="717.05" y="157.5" width="1.9" height="3"/></g><g fill="#d42222" stroke="#a81515" stroke-width="0.5"><rect x="13.25" y="441" width="2.5" height="10.7"/><rect x="15.75" y="443" width="2.5" height="7"/><rect x="21.25" y="432.4" width="2.5" height="13"/><rect x="24.25" y="433" width="2.5" height="13.5"/><rect x="26.75" y="435.5" width="2.5" height="7.3"/><rect x="37.75" y="420.4" width="2.5" height="4.2"/><rect x="40.25" y="421" width="2.5" height="4.5"/><rect x="43.25" y="424.6" width="2.5" height="8.8"/><rect x="59.25" y="407.3" width="2.5" height="8.2"/><rect x="61.75" y="414.6" width="2.5" height="11.9"/><rect x="67.25" y="397.3" width="2.5" height="8.2"/><rect x="78.25" y="387.3" width="2.5" height="6.4"/><rect x="80.75" y="388" width="2.5" height="5"/><rect x="83.75" y="389" width="2.5" height="5.6"/><rect x="86.25" y="389" width="2.5" height="4"/><rect x="97.25" y="369.86" width="2.5" height="8.12"/><rect x="102.75" y="370.33" width="2.5" height="2.49"/><rect x="107.75" y="366.13" width="2.5" height="4.49"/><rect x="110.75" y="369.87" width="2.5" height="19.91"/><rect x="116.25" y="377.67" width="2.5" height="2.4"/><rect x="129.75" y="361.55" width="2.5" height="4.22"/><rect x="132.25" y="365.05" width="2.5" height="2.89"/><rect x="135.25" y="363.88" width="2.5" height="3.97"/><rect x="137.75" y="366.41" width="2.5" height="12.88"/><rect x="153.75" y="358.66" width="2.5" height="4.38"/><rect x="159.25" y="354.11" width="2.5" height="2.19"/><rect x="162.25" y="356.56" width="2.5" height="2.45"/><rect x="164.75" y="358.09" width="2.5" height="7.7"/><rect x="175.75" y="351.53" width="2.5" height="4.14"/><rect x="189.25" y="348.4" width="2.5" height="2.03"/><rect x="191.75" y="349.63" width="2.5" height="4.52"/><rect x="194.75" y="353.66" width="2.5" height="3.08"/><rect x="216.25" y="312.63" width="2.5" height="3.62"/><rect x="218.75" y="314.48" width="2.5" height="3.9"/><rect x="221.75" y="316.25" width="2.5" height="2.42"/><rect x="229.75" y="313.84" width="2.5" height="7"/><rect x="232.25" y="317.39" width="2.5" height="2.74"/><rect x="235.25" y="319.1" width="2.5" height="12.28"/><rect x="237.75" y="332.57" width="2.5" height="17.84"/><rect x="243.25" y="338.86" width="2.5" height="3.07"/><rect x="248.75" y="339.96" width="2.5" height="3.51"/><rect x="251.25" y="342.58" width="2.5" height="7.11"/><rect x="254.25" y="348.57" width="2.5" height="6.35"/><rect x="264.75" y="334.19" width="2.5" height="5.78"/><rect x="267.75" y="340.83" width="2.5" height="16.59"/><rect x="270.25" y="356.74" width="2.5" height="10"/><rect x="272.75" y="367.01" width="2.5" height="6.56"/><rect x="278.25" y="370.38" width="2.5" height="6.34"/><rect x="281.25" y="373.92" width="2.5" height="3.56"/><rect x="286.75" y="363" width="2.5" height="19"/><rect x="289.25" y="364.26" width="2.5" height="13"/><rect x="291.75" y="378.27" width="2.5" height="9.73"/><rect x="297.25" y="383.85" width="2.5" height="11.59"/><rect x="300.25" y="396.37" width="2.5" height="7.3"/><rect x="316.25" y="364" width="2.5" height="8"/><rect x="318.75" y="367" width="2.5" height="17"/><rect x="321.75" y="380" width="2.5" height="14"/><rect x="324.25" y="384" width="2.5" height="14"/><rect x="327.25" y="386" width="2.5" height="16"/><rect x="329.75" y="396" width="2.5" height="15"/><rect x="332.25" y="405" width="2.5" height="15"/><rect x="337.75" y="421" width="2.5" height="12"/><rect x="346.25" y="414.25" width="2.5" height="3.63"/><rect x="359.75" y="385.98" width="2.5" height="3.57"/><rect x="362.25" y="390.34" width="2.5" height="4.37"/><rect x="364.75" y="394.4" width="2.5" height="3.89"/><rect x="386.75" y="362.85" width="2.5" height="4.48"/><rect x="394.75" y="361.08" width="2.5" height="2.16"/><rect x="405.75" y="345.44" width="2.5" height="2.54"/><rect x="410.75" y="349.77" width="2.5" height="8.04"/><rect x="413.75" y="354.94" width="2.5" height="4.39"/><rect x="429.75" y="312.51" width="2.5" height="8.71"/><rect x="435.25" y="302.31" width="2.5" height="4.48"/><rect x="440.75" y="304.77" width="2.5" height="6.39"/><rect x="448.75" y="293.89" width="2.5" height="2.83"/><rect x="454.25" y="292.37" width="2.5" height="21.5"/><rect x="467.75" y="293.42" width="2.5" height="13.06"/><rect x="473.25" y="309.02" width="2.5" height="6.34"/><rect x="478.75" y="304.43" width="2.5" height="2.47"/><rect x="481.25" y="306.27" width="2.5" height="10.92"/><rect x="483.75" y="316.59" width="2.5" height="5.43"/><rect x="492.25" y="296.53" width="2.5" height="2.05"/><rect x="511.25" y="275.11" width="2.5" height="8.17"/><rect x="543.75" y="213.63" width="2.5" height="4.64"/><rect x="551.75" y="216.5" width="2.5" height="24"/><rect x="575.75" y="166" width="2.5" height="9"/><rect x="586.75" y="171" width="2.5" height="16"/><rect x="589.25" y="179" width="2.5" height="13"/><rect x="592.25" y="188" width="2.5" height="13"/><rect x="594.75" y="192" width="2.5" height="22"/><rect x="603.25" y="178" width="2.5" height="10"/><rect x="605.75" y="190.7" width="2.5" height="23.3"/><rect x="616.75" y="179.22" width="2.5" height="2.59"/><rect x="619.25" y="176.79" width="2.5" height="4.17"/><rect x="624.75" y="167.73" width="2.5" height="3.98"/><rect x="632.75" y="160.81" width="2.5" height="3.46"/><rect x="635.25" y="163.7" width="2.5" height="8.75"/><rect x="638.25" y="171.35" width="2.5" height="3.18"/><rect x="643.75" y="168.48" width="2.5" height="3.18"/><rect x="646.25" y="167.34" width="2.5" height="3.58"/><rect x="649.25" y="166.59" width="2.5" height="3.81"/><rect x="654.25" y="155" width="2.5" height="15.5"/><rect x="657.25" y="162.58" width="2.5" height="6.47"/><rect x="662.75" y="177.7" width="2.5" height="11.3"/><rect x="673.25" y="167.5" width="2.5" height="25.5"/><rect x="676.25" y="188" width="2.5" height="17"/><rect x="681.25" y="189" width="2.5" height="14.7"/><rect x="684.25" y="190.7" width="2.5" height="18.3"/><rect x="686.75" y="210" width="2.5" height="29"/><rect x="692.25" y="205" width="2.5" height="19.5"/><rect x="695.25" y="206" width="2.5" height="21"/><rect x="705.75" y="172.5" width="2.5" height="5.2"/></g></g><line x1="338.5" y1="436.5" x2="592" y2="162.5" stroke="#1c1ce0" stroke-width="4" stroke-linecap="round"/><polygon points="597.5,157.8 587.5,160.8 594.5,167" fill="#6422d8" stroke="#5a1ed8" stroke-width="1.4" stroke-linejoin="round"/><polygon points="574.3,144.5 580.3,144.5 580.3,151 583.5,151 577.3,157 571.1,151 574.3,151" fill="#ee1111"/><polygon points="582.6,144.5 588.6,144.5 588.6,151 591.8,151 585.6,157 579.4,151 582.6,151" fill="#ee1111"/><polygon points="627.6,144.5 633.6,144.5 633.6,151 636.8,151 630.6,157 624.4,151 627.6,151" fill="#ee1111"/><polygon points="657.5,140 663.5,140 663.5,146.5 666.7,146.5 660.5,152.5 654.3,146.5 657.5,146.5" fill="#ee1111"/><polygon points="550.3,258.5 556.3,258.5 556.3,252.5 559.3,252.5 553.3,246.5 547.3,252.5 550.3,252.5" fill="#6ab04c"/><polygon points="687.5,266 693.5,266 693.5,259.2 696.5,259.2 690.5,253.2 684.5,259.2 687.5,259.2" fill="#6ab04c"/><rect x="717" y="140.5" width="7" height="22" rx="3" fill="#f8f8c4" opacity="0.8"/><rect x="719.3" y="143.6" width="2.2" height="17" fill="#e8ec70" stroke="#1a1a10" stroke-width="0.9"/><line x1="720.4" y1="141.5" x2="720.4" y2="143.6" stroke="#111" stroke-width="0.9"/><ellipse cx="720.6" cy="149.6" rx="14" ry="13.3" fill="none" stroke="#2b2bb0" stroke-width="1.9"/><g stroke="#111" stroke-width="0.8"><line x1="18" y1="139" x2="18" y2="146"/><line x1="22" y1="139.5" x2="22" y2="146"/></g><rect x="16.8" y="140.5" width="2.4" height="4" fill="#111"/><rect x="20.8" y="141" width="2.4" height="3.5" fill="#111"/><text x="27.5" y="146.4" font-size="8.8" textLength="136.2" lengthAdjust="spacing" fill="#333">$DJUSSC (Weekly) 22790.54</text><rect x="16.3" y="150.2" width="7" height="2" fill="#4a4a8a"/><text x="24.6" y="155" font-size="8.8" textLength="64.6" lengthAdjust="spacing" fill="#4a4a8a">MA(50) 18773.31</text><rect x="16.3" y="159.3" width="7" height="2" fill="#b06030"/><text x="24.6" y="164" font-size="8.8" textLength="68.7" lengthAdjust="spacing" fill="#b07040">EMA(20) 19162.72</text><g stroke="#e6e7ec" stroke-width="1"><line x1="20.33" y1="470.5" x2="20.33" y2="583.5"/><line x1="55.5" y1="470.5" x2="55.5" y2="583.5"/><line x1="90.67" y1="470.5" x2="90.67" y2="583.5"/><line x1="125.83" y1="470.5" x2="125.83" y2="583.5"/><line x1="161" y1="470.5" x2="161" y2="583.5"/><line x1="196.17" y1="470.5" x2="196.17" y2="583.5"/><line x1="231.34" y1="470.5" x2="231.34" y2="583.5"/><line x1="266.51" y1="470.5" x2="266.51" y2="583.5"/><line x1="301.68" y1="470.5" x2="301.68" y2="583.5"/><line x1="336.85" y1="470.5" x2="336.85" y2="583.5"/><line x1="372.02" y1="470.5" x2="372.02" y2="583.5"/><line x1="407.19" y1="470.5" x2="407.19" y2="583.5"/><line x1="442.35" y1="470.5" x2="442.35" y2="583.5"/><line x1="477.52" y1="470.5" x2="477.52" y2="583.5"/><line x1="512.69" y1="470.5" x2="512.69" y2="583.5"/><line x1="547.86" y1="470.5" x2="547.86" y2="583.5"/><line x1="583.03" y1="470.5" x2="583.03" y2="583.5"/><line x1="620.9" y1="470.5" x2="620.9" y2="583.5"/><line x1="656.07" y1="470.5" x2="656.07" y2="583.5"/><line x1="691.24" y1="470.5" x2="691.24" y2="583.5"/></g><g stroke="#e6e7ec" stroke-width="1"><line x1="13.5" y1="562.5" x2="725.5" y2="562.5"/><line x1="13.5" y1="542.5" x2="725.5" y2="542.5"/><line x1="13.5" y1="522.5" x2="725.5" y2="522.5"/><line x1="13.5" y1="501.5" x2="725.5" y2="501.5"/><line x1="13.5" y1="481.5" x2="725.5" y2="481.5"/></g><g clip-path="url(#cvol)"><g fill="#63a063" stroke="#4d7f4d" stroke-width="0.4"><rect x="16" y="568.39" width="2.45" height="14.61"/><rect x="32.23" y="562.6" width="2.45" height="20.4"/><rect x="37.64" y="564.86" width="2.45" height="18.14"/><rect x="48.47" y="564" width="2.45" height="19"/><rect x="51.17" y="564.5" width="2.45" height="18.5"/><rect x="53.88" y="564.5" width="2.45" height="18.5"/><rect x="72.81" y="569.08" width="2.45" height="13.92"/><rect x="75.52" y="564.37" width="2.45" height="18.63"/><rect x="78.22" y="562.45" width="2.45" height="20.55"/><rect x="89.05" y="566.7" width="2.45" height="16.3"/><rect x="91.75" y="561.17" width="2.45" height="21.83"/><rect x="94.46" y="560.3" width="2.45" height="22.7"/><rect x="102.57" y="565.93" width="2.45" height="17.07"/><rect x="116.1" y="561.5" width="2.45" height="21.5"/><rect x="118.8" y="564.24" width="2.45" height="18.76"/><rect x="121.51" y="567.19" width="2.45" height="15.81"/><rect x="124.21" y="565.86" width="2.45" height="17.14"/><rect x="132.33" y="563.1" width="2.45" height="19.9"/><rect x="143.15" y="565.69" width="2.45" height="17.31"/><rect x="153.97" y="565.48" width="2.45" height="17.52"/><rect x="156.68" y="566.23" width="2.45" height="16.77"/><rect x="159.38" y="568.36" width="2.45" height="14.64"/><rect x="164.79" y="566.78" width="2.45" height="16.22"/><rect x="167.5" y="561.5" width="2.45" height="21.5"/><rect x="170.2" y="554.42" width="2.45" height="28.58"/><rect x="189.14" y="565.58" width="2.45" height="17.42"/><rect x="194.55" y="565.89" width="2.45" height="17.11"/><rect x="199.96" y="564.04" width="2.45" height="18.96"/><rect x="202.67" y="559.92" width="2.45" height="23.08"/><rect x="208.08" y="558.09" width="2.45" height="24.91"/><rect x="210.78" y="560.72" width="2.45" height="22.28"/><rect x="218.9" y="557.3" width="2.45" height="25.7"/><rect x="229.72" y="557.58" width="2.45" height="25.42"/><rect x="243.25" y="550.03" width="2.45" height="32.97"/><rect x="245.95" y="550.8" width="2.45" height="32.2"/><rect x="248.66" y="552.96" width="2.45" height="30.04"/><rect x="251.36" y="552.52" width="2.45" height="30.48"/><rect x="254.07" y="551.8" width="2.45" height="31.2"/><rect x="256.77" y="551.77" width="2.45" height="31.23"/><rect x="262.18" y="551.94" width="2.45" height="31.06"/><rect x="267.59" y="555.13" width="2.45" height="27.87"/><rect x="270.3" y="560.02" width="2.45" height="22.98"/><rect x="275.71" y="549.37" width="2.45" height="33.63"/><rect x="278.42" y="547.15" width="2.45" height="35.85"/><rect x="281.12" y="546.96" width="2.45" height="36.04"/><rect x="286.53" y="552.84" width="2.45" height="30.16"/><rect x="291.94" y="549.4" width="2.45" height="33.6"/><rect x="300.06" y="556.28" width="2.45" height="26.72"/><rect x="305.47" y="555.59" width="2.45" height="27.41"/><rect x="310.88" y="553.93" width="2.45" height="29.07"/><rect x="313.59" y="553.97" width="2.45" height="29.03"/><rect x="316.29" y="556.88" width="2.45" height="26.12"/><rect x="321.7" y="555.3" width="2.45" height="27.7"/><rect x="332.52" y="553.16" width="2.45" height="29.84"/><rect x="335.23" y="550.68" width="2.45" height="32.32"/><rect x="343.34" y="552.47" width="2.45" height="30.53"/><rect x="354.16" y="554.81" width="2.45" height="28.19"/><rect x="359.58" y="561.08" width="2.45" height="21.92"/><rect x="362.28" y="555" width="2.45" height="28"/><rect x="370.4" y="565.07" width="2.45" height="17.93"/><rect x="378.51" y="559.49" width="2.45" height="23.51"/><rect x="381.22" y="552.22" width="2.45" height="30.78"/><rect x="383.92" y="555.35" width="2.45" height="27.65"/><rect x="386.63" y="559.46" width="2.45" height="23.54"/><rect x="389.33" y="560.59" width="2.45" height="22.41"/><rect x="397.45" y="552.02" width="2.45" height="30.98"/><rect x="400.15" y="553.07" width="2.45" height="29.93"/><rect x="408.27" y="564.05" width="2.45" height="18.95"/><rect x="410.98" y="563.1" width="2.45" height="19.9"/><rect x="419.09" y="556.75" width="2.45" height="26.25"/><rect x="421.8" y="558.74" width="2.45" height="24.26"/><rect x="424.5" y="549.7" width="2.45" height="33.3"/><rect x="429.91" y="551.53" width="2.45" height="31.47"/><rect x="432.62" y="548.18" width="2.45" height="34.82"/><rect x="438.03" y="558.39" width="2.45" height="24.61"/><rect x="451.56" y="556.04" width="2.45" height="26.96"/><rect x="454.26" y="559.77" width="2.45" height="23.23"/><rect x="456.97" y="559.91" width="2.45" height="23.09"/><rect x="462.38" y="558.39" width="2.45" height="24.61"/><rect x="465.08" y="563.12" width="2.45" height="19.88"/><rect x="475.9" y="561.93" width="2.45" height="21.07"/><rect x="478.61" y="560.52" width="2.45" height="22.48"/><rect x="484.02" y="557.41" width="2.45" height="25.59"/><rect x="486.72" y="553.78" width="2.45" height="29.22"/><rect x="489.43" y="556.72" width="2.45" height="26.28"/><rect x="492.13" y="558.4" width="2.45" height="24.6"/><rect x="494.84" y="560.71" width="2.45" height="22.29"/><rect x="505.66" y="556.66" width="2.45" height="26.34"/><rect x="508.37" y="561.51" width="2.45" height="21.49"/><rect x="511.07" y="561.82" width="2.45" height="21.18"/><rect x="513.78" y="558.27" width="2.45" height="24.73"/><rect x="519.19" y="549.86" width="2.45" height="33.14"/><rect x="521.89" y="551.41" width="2.45" height="31.59"/><rect x="532.71" y="554.62" width="2.45" height="28.38"/><rect x="535.42" y="548.84" width="2.45" height="34.16"/><rect x="562.47" y="560.09" width="2.45" height="22.91"/><rect x="565.18" y="558.29" width="2.45" height="24.71"/><rect x="567.88" y="559.4" width="2.45" height="23.6"/><rect x="570.59" y="557.32" width="2.45" height="25.68"/><rect x="573.29" y="536.85" width="2.45" height="46.15"/><rect x="584.12" y="531.7" width="2.45" height="51.3"/><rect x="597.64" y="523.28" width="2.45" height="59.72"/><rect x="600.35" y="527.5" width="2.45" height="55.5"/><rect x="616.58" y="535.99" width="2.45" height="47.01"/><rect x="619.28" y="536.84" width="2.45" height="46.16"/><rect x="635.52" y="534.96" width="2.45" height="48.04"/><rect x="640.93" y="533.34" width="2.45" height="49.66"/><rect x="649.04" y="550.35" width="2.45" height="32.65"/><rect x="651.75" y="551.58" width="2.45" height="31.42"/><rect x="659.86" y="541.08" width="2.45" height="41.92"/><rect x="665.27" y="525.25" width="2.45" height="57.75"/><rect x="667.98" y="528.92" width="2.45" height="54.08"/><rect x="678.8" y="516.75" width="2.45" height="66.25"/><rect x="689.62" y="480.71" width="2.45" height="102.29"/><rect x="695.03" y="526.87" width="2.45" height="56.13"/><rect x="697.74" y="535.86" width="2.45" height="47.14"/><rect x="700.44" y="540.31" width="2.45" height="42.69"/><rect x="703.15" y="527.64" width="2.45" height="55.36"/><rect x="708.56" y="536.02" width="2.45" height="46.98"/><rect x="711.26" y="534.89" width="2.45" height="48.11"/><rect x="713.97" y="534.7" width="2.45" height="48.3"/><rect x="716.67" y="536.14" width="2.45" height="46.86"/><rect x="719.38" y="539.3" width="2.45" height="43.7"/></g><g fill="#c73360" stroke="#8f2a45" stroke-width="0.4"><rect x="13.3" y="565" width="2.45" height="18"/><rect x="18.71" y="567.87" width="2.45" height="15.13"/><rect x="21.41" y="564.17" width="2.45" height="18.83"/><rect x="24.12" y="558.88" width="2.45" height="24.12"/><rect x="26.82" y="556.8" width="2.45" height="26.2"/><rect x="29.53" y="560.1" width="2.45" height="22.9"/><rect x="34.94" y="564.11" width="2.45" height="18.89"/><rect x="40.35" y="560.83" width="2.45" height="22.17"/><rect x="43.06" y="564.1" width="2.45" height="18.9"/><rect x="45.76" y="565.52" width="2.45" height="17.48"/><rect x="56.58" y="565.17" width="2.45" height="17.83"/><rect x="59.29" y="565.79" width="2.45" height="17.21"/><rect x="61.99" y="560.38" width="2.45" height="22.62"/><rect x="64.7" y="561.08" width="2.45" height="21.92"/><rect x="67.4" y="563.02" width="2.45" height="19.98"/><rect x="70.11" y="564.52" width="2.45" height="18.48"/><rect x="80.93" y="565.32" width="2.45" height="17.68"/><rect x="83.63" y="571.66" width="2.45" height="11.34"/><rect x="86.34" y="572" width="2.45" height="11"/><rect x="97.16" y="560.3" width="2.45" height="22.7"/><rect x="99.87" y="562.76" width="2.45" height="20.24"/><rect x="105.28" y="563.98" width="2.45" height="19.02"/><rect x="107.98" y="562.41" width="2.45" height="20.59"/><rect x="110.69" y="561.78" width="2.45" height="21.22"/><rect x="113.39" y="561.5" width="2.45" height="21.5"/><rect x="126.92" y="564.62" width="2.45" height="18.38"/><rect x="129.62" y="563.53" width="2.45" height="19.47"/><rect x="135.04" y="563.1" width="2.45" height="19.9"/><rect x="137.74" y="562.76" width="2.45" height="20.24"/><rect x="140.45" y="563.73" width="2.45" height="19.27"/><rect x="145.86" y="567.83" width="2.45" height="15.17"/><rect x="148.56" y="569.2" width="2.45" height="13.8"/><rect x="151.27" y="565.67" width="2.45" height="17.33"/><rect x="162.09" y="568.91" width="2.45" height="14.09"/><rect x="172.91" y="558.28" width="2.45" height="24.72"/><rect x="175.61" y="560.86" width="2.45" height="22.14"/><rect x="178.32" y="561.5" width="2.45" height="21.5"/><rect x="181.03" y="564.14" width="2.45" height="18.86"/><rect x="183.73" y="569.42" width="2.45" height="13.58"/><rect x="186.44" y="568.11" width="2.45" height="14.89"/><rect x="191.85" y="564.58" width="2.45" height="18.42"/><rect x="197.26" y="566.2" width="2.45" height="16.8"/><rect x="205.37" y="557.82" width="2.45" height="25.18"/><rect x="213.49" y="562.06" width="2.45" height="20.94"/><rect x="216.19" y="555.41" width="2.45" height="27.59"/><rect x="221.6" y="555.88" width="2.45" height="27.12"/><rect x="224.31" y="560.43" width="2.45" height="22.57"/><rect x="227.02" y="562.88" width="2.45" height="20.12"/><rect x="232.43" y="557.96" width="2.45" height="25.04"/><rect x="235.13" y="563.74" width="2.45" height="19.26"/><rect x="237.84" y="550.81" width="2.45" height="32.19"/><rect x="240.54" y="547.21" width="2.45" height="35.79"/><rect x="259.48" y="553.19" width="2.45" height="29.81"/><rect x="264.89" y="552.33" width="2.45" height="30.67"/><rect x="273.01" y="553.68" width="2.45" height="29.32"/><rect x="283.83" y="549.01" width="2.45" height="33.99"/><rect x="289.24" y="555.94" width="2.45" height="27.06"/><rect x="294.65" y="555.66" width="2.45" height="27.34"/><rect x="297.35" y="556.87" width="2.45" height="26.13"/><rect x="302.76" y="559.02" width="2.45" height="23.98"/><rect x="308.17" y="555.28" width="2.45" height="27.72"/><rect x="319" y="558.76" width="2.45" height="24.24"/><rect x="324.41" y="559.93" width="2.45" height="23.07"/><rect x="327.11" y="556.49" width="2.45" height="26.51"/><rect x="329.82" y="553.9" width="2.45" height="29.1"/><rect x="337.93" y="547.67" width="2.45" height="35.33"/><rect x="340.64" y="551.19" width="2.45" height="31.81"/><rect x="346.05" y="552.1" width="2.45" height="30.9"/><rect x="348.75" y="552.1" width="2.45" height="30.9"/><rect x="351.46" y="552.69" width="2.45" height="30.31"/><rect x="356.87" y="558.26" width="2.45" height="24.74"/><rect x="364.99" y="558.56" width="2.45" height="24.44"/><rect x="367.69" y="565.8" width="2.45" height="17.2"/><rect x="373.1" y="561.04" width="2.45" height="21.96"/><rect x="375.81" y="562.14" width="2.45" height="20.86"/><rect x="392.04" y="559.84" width="2.45" height="23.16"/><rect x="394.74" y="557.24" width="2.45" height="25.76"/><rect x="402.86" y="555.78" width="2.45" height="27.22"/><rect x="405.57" y="560.51" width="2.45" height="22.49"/><rect x="413.68" y="562.04" width="2.45" height="20.96"/><rect x="416.39" y="557.49" width="2.45" height="25.51"/><rect x="427.21" y="551.41" width="2.45" height="31.59"/><rect x="435.32" y="557.87" width="2.45" height="25.13"/><rect x="440.73" y="563.05" width="2.45" height="19.95"/><rect x="443.44" y="563.32" width="2.45" height="19.68"/><rect x="446.14" y="556.96" width="2.45" height="26.04"/><rect x="448.85" y="555.52" width="2.45" height="27.48"/><rect x="459.67" y="556.64" width="2.45" height="26.36"/><rect x="467.79" y="560.26" width="2.45" height="22.74"/><rect x="470.49" y="560.17" width="2.45" height="22.83"/><rect x="473.2" y="561.35" width="2.45" height="21.65"/><rect x="481.31" y="559.13" width="2.45" height="23.87"/><rect x="497.55" y="565.48" width="2.45" height="17.52"/><rect x="500.25" y="559.49" width="2.45" height="23.51"/><rect x="502.96" y="551.37" width="2.45" height="31.63"/><rect x="516.48" y="556.47" width="2.45" height="26.53"/><rect x="524.6" y="555.4" width="2.45" height="27.6"/><rect x="527.3" y="556.59" width="2.45" height="26.41"/><rect x="530.01" y="557.44" width="2.45" height="25.56"/><rect x="538.12" y="549.56" width="2.45" height="33.44"/><rect x="540.83" y="552.15" width="2.45" height="30.85"/><rect x="543.54" y="558.64" width="2.45" height="24.36"/><rect x="546.24" y="556.81" width="2.45" height="26.19"/><rect x="548.95" y="556.2" width="2.45" height="26.8"/><rect x="551.65" y="556.3" width="2.45" height="26.7"/><rect x="554.36" y="555.35" width="2.45" height="27.65"/><rect x="557.06" y="555.03" width="2.45" height="27.97"/><rect x="559.77" y="557.28" width="2.45" height="25.72"/><rect x="576" y="526.11" width="2.45" height="56.89"/><rect x="578.7" y="525" width="2.45" height="58"/><rect x="581.41" y="550.68" width="2.45" height="32.32"/><rect x="586.82" y="529.63" width="2.45" height="53.37"/><rect x="589.53" y="528.51" width="2.45" height="54.49"/><rect x="592.23" y="503.39" width="2.45" height="79.61"/><rect x="594.94" y="508.85" width="2.45" height="74.15"/><rect x="603.05" y="522.18" width="2.45" height="60.82"/><rect x="605.76" y="525.6" width="2.45" height="57.4"/><rect x="608.46" y="526.81" width="2.45" height="56.19"/><rect x="611.17" y="514.96" width="2.45" height="68.04"/><rect x="613.87" y="524.97" width="2.45" height="58.03"/><rect x="621.99" y="533.18" width="2.45" height="49.82"/><rect x="624.69" y="538.43" width="2.45" height="44.57"/><rect x="627.4" y="535.5" width="2.45" height="47.5"/><rect x="630.11" y="537.63" width="2.45" height="45.37"/><rect x="632.81" y="539.24" width="2.45" height="43.76"/><rect x="638.22" y="546.35" width="2.45" height="36.65"/><rect x="643.63" y="534.28" width="2.45" height="48.72"/><rect x="646.34" y="518.43" width="2.45" height="64.57"/><rect x="654.45" y="539.6" width="2.45" height="43.4"/><rect x="657.16" y="537.76" width="2.45" height="45.24"/><rect x="662.57" y="495.99" width="2.45" height="87.01"/><rect x="670.68" y="535.74" width="2.45" height="47.26"/><rect x="673.39" y="518.8" width="2.45" height="64.2"/><rect x="676.1" y="510.25" width="2.45" height="72.75"/><rect x="681.51" y="522.7" width="2.45" height="60.3"/><rect x="684.21" y="533.46" width="2.45" height="49.54"/><rect x="686.92" y="513.51" width="2.45" height="69.49"/><rect x="692.33" y="532.16" width="2.45" height="50.84"/><rect x="705.85" y="536.4" width="2.45" height="46.6"/></g></g><g transform="translate(16,473.5)"><rect x="0" y="5" width="2" height="5" fill="#5a9a5a"/><rect x="2.5" y="2" width="2" height="8" fill="#5a9a5a"/><rect x="5" y="4" width="2" height="6" fill="#5a9a5a"/></g><text x="27.2" y="480" font-size="8.8" textLength="119.5" lengthAdjust="spacing" fill="#333">Volume 211,488,751,616</text><g stroke="#e6e7ec" stroke-width="1"><line x1="20.33" y1="583.5" x2="20.33" y2="695.5"/><line x1="55.5" y1="583.5" x2="55.5" y2="695.5"/><line x1="90.67" y1="583.5" x2="90.67" y2="695.5"/><line x1="125.83" y1="583.5" x2="125.83" y2="695.5"/><line x1="161" y1="583.5" x2="161" y2="695.5"/><line x1="196.17" y1="583.5" x2="196.17" y2="695.5"/><line x1="231.34" y1="583.5" x2="231.34" y2="695.5"/><line x1="266.51" y1="583.5" x2="266.51" y2="695.5"/><line x1="301.68" y1="583.5" x2="301.68" y2="695.5"/><line x1="336.85" y1="583.5" x2="336.85" y2="695.5"/><line x1="372.02" y1="583.5" x2="372.02" y2="695.5"/><line x1="407.19" y1="583.5" x2="407.19" y2="695.5"/><line x1="442.35" y1="583.5" x2="442.35" y2="695.5"/><line x1="477.52" y1="583.5" x2="477.52" y2="695.5"/><line x1="512.69" y1="583.5" x2="512.69" y2="695.5"/><line x1="547.86" y1="583.5" x2="547.86" y2="695.5"/><line x1="583.03" y1="583.5" x2="583.03" y2="695.5"/><line x1="620.9" y1="583.5" x2="620.9" y2="695.5"/><line x1="656.07" y1="583.5" x2="656.07" y2="695.5"/><line x1="691.24" y1="583.5" x2="691.24" y2="695.5"/></g><g stroke="#e6e7ec" stroke-width="1"><line x1="13.5" y1="690.5" x2="725.5" y2="690.5"/><line x1="13.5" y1="680.5" x2="725.5" y2="680.5"/><line x1="13.5" y1="670.5" x2="725.5" y2="670.5"/><line x1="13.5" y1="650.5" x2="725.5" y2="650.5"/><line x1="13.5" y1="630.5" x2="725.5" y2="630.5"/><line x1="13.5" y1="610.5" x2="725.5" y2="610.5"/><line x1="13.5" y1="600.5" x2="725.5" y2="600.5"/></g><g clip-path="url(#crsi)"><polygon points="76.67,619.5 76.74,619.42 76.82,619.5" fill="#7aafa5" stroke="none"/><polygon points="90.77,619.5 92.97,617.58 95.68,616.12 96.82,619.5" fill="#7aafa5" stroke="none"/><polygon points="106.07,619.5 106.5,619.12 106.7,619.5" fill="#7aafa5" stroke="none"/><polygon points="205.81,619.5 206.59,616.93 209.3,613.65 212,612.54 214.71,618.18 217.41,618.96 220.12,619.41 220.16,619.5" fill="#7aafa5" stroke="none"/><polygon points="423.94,619.5 425.72,612.64 428.43,613.09 431.13,611.87 433.84,610.73 436.54,614.67 439.25,614.61 441.95,615.65 444.66,616.29 447.36,614.9 450.07,614.9 451.87,619.5" fill="#7aafa5" stroke="none"/><polygon points="516.66,619.5 517.7,618.05 520.41,617.79 523.11,615.09 525.82,612.43 528.52,610.12 531.23,607.86 533.93,605.92 536.64,606.07 539.34,611 542.05,607.63 544.76,611.71 547.46,615.81 549.38,619.5" fill="#7aafa5" stroke="none"/><polygon points="564.42,619.5 566.4,616.8 569.1,616.8 571.81,612.75 574.51,609.87 577.22,614.24 579.92,616.57 582.63,616.01 585.34,615.45 586.65,619.5" fill="#7aafa5" stroke="none"/><line x1="14" y1="619.5" x2="725" y2="619.5" stroke="#9a9ca4" stroke-width="1.3"/><line x1="14" y1="659.5" x2="725" y2="659.5" stroke="#9a9ca4" stroke-width="1.3"/><line x1="14" y1="639.5" x2="725" y2="639.5" stroke="#a8a8b0" stroke-width="1" stroke-dasharray="7,3,2,3"/><polyline points="14.52,632 17.22,630.12 19.93,628.33 22.63,627.48 25.34,629.84 28.04,629.26 30.75,626.55 33.45,625.25 36.16,624.01 38.86,621.85 41.57,625.45 44.28,630.16 46.98,629.82 49.69,628.31 52.39,626.41 55.1,622.55 57.8,619.79 60.51,621.92 63.21,632.47 65.92,624.75 68.62,625.42 71.33,625.15 74.03,622.87 76.74,619.42 79.44,622.34 82.15,623.22 84.85,622.91 87.56,623.1 90.27,619.94 92.97,617.58 95.68,616.12 98.38,624.08 101.09,624.84 103.79,621.5 106.5,619.12 109.2,624.18 111.91,633.2 114.61,631.47 117.32,629.95 120.02,628.54 122.73,625.26 125.43,622.7 128.14,622.7 130.84,626.8 133.55,630.15 136.26,632.86 138.96,637.18 141.67,635.97 144.37,630.56 147.08,628.91 149.78,628.13 152.49,628.36 155.19,627.31 157.9,624.38 160.6,627.62 163.31,633.95 166.01,631.53 168.72,628.68 171.42,625.98 174.13,628.32 176.83,631.23 179.54,628.09 182.25,626.2 184.95,626.25 187.66,626.81 190.36,627.37 193.07,634.03 195.77,635.43 198.48,633.37 201.18,630.14 203.89,625.8 206.59,616.93 209.3,613.65 212,612.54 214.71,618.18 217.41,618.96 220.12,619.41 222.82,625.42 225.53,622.35 228.24,622.51 230.94,626.78 233.65,630.43 236.35,637.37 239.06,645.87 241.76,643.22 244.47,643.89 247.17,643.42 249.88,642.96 252.58,645.97 255.29,647.23 257.99,638.43 260.7,635.8 263.4,638.89 266.11,643.67 268.81,648.1 271.52,650.48 274.23,652.17 276.93,650.96 279.64,651.22 282.34,653.24 285.05,649.52 287.75,646.49 290.46,648.11 293.16,654.28 295.87,653.33 298.57,654.09 301.28,652.81 303.98,648.73 306.69,644.69 309.39,640.98 312.1,638.66 314.81,639.64 317.51,642.36 320.22,646.24 322.92,650.67 325.63,649 328.33,649.96 331.04,652.26 333.74,654.11 336.45,656.04 339.15,658.29 341.86,654.09 344.56,650.45 347.27,647.73 349.97,639.1 352.68,639.1 355.38,639 358.09,638.6 360.8,639.65 363.5,642.06 366.21,644 368.91,644.44 371.62,640.18 374.32,637.31 377.03,635.02 379.73,632.48 382.44,628 385.14,629.07 387.85,629.9 390.55,629.9 393.26,627.57 395.96,630.1 398.67,626.69 401.37,623.99 404.08,622.31 406.79,627.03 409.49,628.5 412.2,629.01 414.9,629.42 417.61,629.42 420.31,628.48 423.02,623.07 425.72,612.64 428.43,613.09 431.13,611.87 433.84,610.73 436.54,614.67 439.25,614.61 441.95,615.65 444.66,616.29 447.36,614.9 450.07,614.9 452.78,621.8 455.48,628.28 458.19,630.36 460.89,628.32 463.6,623.58 466.3,628.08 469.01,632.66 471.71,637.09 474.42,635.24 477.12,633.56 479.83,635.05 482.53,640.42 485.24,641.05 487.94,634.55 490.65,630.55 493.35,627.58 496.06,628.93 498.77,628.57 501.47,625.8 504.18,621.78 506.88,620.64 509.59,621.78 512.29,627.22 515,621.81 517.7,618.05 520.41,617.79 523.11,615.09 525.82,612.43 528.52,610.12 531.23,607.86 533.93,605.92 536.64,606.07 539.34,611 542.05,607.63 544.76,611.71 547.46,615.81 550.17,621 552.87,632.38 555.58,630 558.28,626.46 560.99,625.01 563.69,620.49 566.4,616.8 569.1,616.8 571.81,612.75 574.51,609.87 577.22,614.24 579.92,616.57 582.63,616.01 585.34,615.45 588.04,623.77 590.75,632.23 593.45,640.1 596.16,639.58 598.86,630.56 601.57,628.01 604.27,634.45 606.98,642.73 609.68,637.1 612.39,635.25 615.09,633.9 617.8,631.53 620.5,629.77 623.21,628.69 625.91,629.02 628.62,628.16 631.33,628.11 634.03,632.07 636.74,633.2 639.44,633.2 642.15,632.97 644.85,632.82 647.56,633.55 650.26,632.29 652.97,629.98 655.67,631.64 658.38,631.52 661.08,630.49 663.79,642.51 666.49,638.41 669.2,634.73 671.9,636.51 674.61,640.61 677.32,646.28 680.02,645.89 682.73,645.54 685.43,649.69 688.14,657.13 690.84,649.77 693.55,649.6 696.25,645.62 698.96,642.71 701.66,638.72 704.37,633.89 707.07,634.33 709.78,633.16 712.48,630.71 715.19,629.98 717.89,628.04 720.6,624.3" fill="none" stroke="#8c909c" stroke-width="1.5" stroke-linejoin="round"/></g><polygon points="16.3,592 19.5,586 23.3,592" fill="#6fa39a" stroke="#4a7a72" stroke-width="0.6"/><text x="26.9" y="592.1" font-size="8.8" textLength="67.2" lengthAdjust="spacing" fill="#333">RSI(14) 65.29</text><g stroke="#e6e7ec" stroke-width="1"><line x1="20.33" y1="695.5" x2="20.33" y2="1017.5"/><line x1="55.5" y1="695.5" x2="55.5" y2="1017.5"/><line x1="90.67" y1="695.5" x2="90.67" y2="1017.5"/><line x1="125.83" y1="695.5" x2="125.83" y2="1017.5"/><line x1="161" y1="695.5" x2="161" y2="1017.5"/><line x1="196.17" y1="695.5" x2="196.17" y2="1017.5"/><line x1="231.34" y1="695.5" x2="231.34" y2="1017.5"/><line x1="266.51" y1="695.5" x2="266.51" y2="1017.5"/><line x1="301.68" y1="695.5" x2="301.68" y2="1017.5"/><line x1="336.85" y1="695.5" x2="336.85" y2="1017.5"/><line x1="372.02" y1="695.5" x2="372.02" y2="1017.5"/><line x1="407.19" y1="695.5" x2="407.19" y2="1017.5"/><line x1="442.35" y1="695.5" x2="442.35" y2="1017.5"/><line x1="477.52" y1="695.5" x2="477.52" y2="1017.5"/><line x1="512.69" y1="695.5" x2="512.69" y2="1017.5"/><line x1="547.86" y1="695.5" x2="547.86" y2="1017.5"/><line x1="583.03" y1="695.5" x2="583.03" y2="1017.5"/><line x1="620.9" y1="695.5" x2="620.9" y2="1017.5"/><line x1="656.07" y1="695.5" x2="656.07" y2="1017.5"/><line x1="691.24" y1="695.5" x2="691.24" y2="1017.5"/></g><g stroke="#e6e7ec" stroke-width="1"><line x1="13.5" y1="1008.5" x2="725.5" y2="1008.5"/><line x1="13.5" y1="995.5" x2="725.5" y2="995.5"/><line x1="13.5" y1="982.5" x2="725.5" y2="982.5"/><line x1="13.5" y1="968.5" x2="725.5" y2="968.5"/><line x1="13.5" y1="955.5" x2="725.5" y2="955.5"/><line x1="13.5" y1="942.5" x2="725.5" y2="942.5"/><line x1="13.5" y1="928.5" x2="725.5" y2="928.5"/><line x1="13.5" y1="915.5" x2="725.5" y2="915.5"/><line x1="13.5" y1="902.5" x2="725.5" y2="902.5"/><line x1="13.5" y1="888.5" x2="725.5" y2="888.5"/><line x1="13.5" y1="875.5" x2="725.5" y2="875.5"/><line x1="13.5" y1="862.5" x2="725.5" y2="862.5"/><line x1="13.5" y1="848.5" x2="725.5" y2="848.5"/><line x1="13.5" y1="835.5" x2="725.5" y2="835.5"/><line x1="13.5" y1="822.5" x2="725.5" y2="822.5"/><line x1="13.5" y1="808.5" x2="725.5" y2="808.5"/><line x1="13.5" y1="795.5" x2="725.5" y2="795.5"/><line x1="13.5" y1="782.5" x2="725.5" y2="782.5"/><line x1="13.5" y1="768.5" x2="725.5" y2="768.5"/><line x1="13.5" y1="755.5" x2="725.5" y2="755.5"/><line x1="13.5" y1="742.5" x2="725.5" y2="742.5"/><line x1="13.5" y1="728.5" x2="725.5" y2="728.5"/><line x1="13.5" y1="715.5" x2="725.5" y2="715.5"/><line x1="13.5" y1="702.5" x2="725.5" y2="702.5"/></g><g clip-path="url(#crat)"><line x1="572.2" y1="701.5" x2="725" y2="750" stroke="#d94848" stroke-width="2" stroke-dasharray="3.6,2.3"/><line x1="580" y1="795.8" x2="725" y2="843.2" stroke="#d94848" stroke-width="2" stroke-dasharray="3.6,2.3"/><polyline points="14.2,994.8 17.6,995.6 21,992.2 23.5,995.6 26.1,1000.7 28.6,997.3 32,996.5 35.4,994.8 38.8,993.9 42.2,994.4 44.7,996.1 47.2,992.2 50.3,987.2 53.2,986.3 55.7,981.2 58.2,979.9 61.6,983.8 63.8,982.9 65.9,974.5 67.5,977 69.6,982.9 72.6,979.2 75.2,977.9 77.4,969.4 79.7,974.5 82.8,973.1 86.2,974.5 88.7,971.1 91.2,965.2 94.6,960.9 97.2,963.5 99.7,967.7 102.2,969.4 104.8,955 107.3,953.3 109.9,960.9 112.4,972.8 114.9,974.5 118.3,970.2 120.9,968.6 123.7,961.8 126.8,963 129.3,967.7 131.9,972.8 136.1,978.7 139.3,986.3 141.8,978.7 145.2,971.1 147.8,969.4 150.7,969.7 153.7,967.7 156.2,967.7 158.4,965.2 160.8,968.6 163.5,977.5 165.9,974.5 168.9,966.9 171.5,964.7 174,971.1 176.5,972.4 179.4,964 182.5,965.7 185,964 187.5,963 190.6,962.3 193,967.7 195.7,970.2 198.6,968 201.9,967.4 204.5,960.9 206.5,943.2 209.6,936.4 212.1,926.2 214.6,928.8 217.7,927.9 220.6,933 223.1,938.6 225.6,933 228.2,934.7 231.2,942.3 234.1,938.1 236.6,954.2 239.2,963.5 241.7,955.9 244.3,957.2 247.6,954.2 250.5,949.9 253.2,957.5 255.6,958.9 257.8,949.1 260.2,945.4 263.5,954.2 266.9,972.8 269.5,977 272.9,977 275.4,974.1 277.9,969.7 280.5,968.6 283,969.1 285.5,964.7 288.1,966 290.6,971.9 293.7,978.7 296,979.6 299.1,995.6 301.6,986.3 304.2,979.6 306.7,973.1 309.2,972.8 312.3,967.7 315.2,974.5 317.7,981.2 320.2,983.8 322.8,993.9 325.3,992.8 327.9,994.8 330.9,997.8 333.8,1000.2 336.3,1001.2 338.9,1010.9 341.4,1006.6 343.9,1003.6 346.5,999.9 349.9,984.6 353.2,986.7 355.8,986.7 358.3,984.6 361.4,981.6 363.7,982.9 366.8,991.4 369.3,992.2 371.9,988 374.4,982.9 377.3,978.6 379.3,971.9 382.2,964.8 385.2,966.8 387.8,966 390.3,962.6 392.9,959.2 396.2,953.2 398.4,940.6 401.3,939.4 403.9,939.7 405.9,944.8 408.1,950.7 411,952.4 413.7,954.6 415.4,956.6 417.4,951.9 419.9,952.4 422.5,943.1 424.2,932.9 425.9,903.3 428.4,907.5 430.9,909.2 433.5,900.8 436.4,906.7 439.4,905 442.4,905 444.5,899.1 447,902.5 449.6,894.3 452.1,898.2 453.8,905.9 456.3,916.4 458.9,906.7 461.4,900.8 463.9,894 466.5,901.6 469,909.2 472.1,911.8 474.9,901.6 477.5,896.5 480,898.2 482.6,908.4 485.1,908.4 488.1,901.6 490.5,893 493.4,885.8 495.9,891.7 498.5,897.1 501,894.3 504.4,879 506.9,879.5 509.5,877.8 512.3,885.3 514.5,872.2 517.1,851.1 520.5,853.1 523.5,847.7 525.9,831.6 528.6,829.1 531,819.8 533.7,801.2 537.1,791 539.9,798.6 542.1,787.6 544.5,794.4 547.2,800.3 549.6,799 553.5,830.4 556,799.5 559.4,801.2 561.9,799.5 563.3,792.9 566.2,757.5 569.3,755.3 572.2,725.4 574.4,702.2 577.3,714.3 580.4,728.7 583.2,724.3 586.1,718.8 588.8,752 591.4,767.5 593.6,787.4 596.5,787.8 598.7,747.5 602.1,742.7 604.3,760.8 607.1,804 609.8,769.2 612.5,776.3 614.9,765.3 618,758.6 620.9,740.9 623.7,743.1 626,735.4 628.6,746.4 631.3,734.3 634.1,754.2 637,759.7 639.7,768.6 643,760.4 647.4,754.2 650.7,742 653.4,731 656.3,739.8 660.7,736.9 663.6,785.2 666.7,766.4 669.6,752.4 672.4,755.3 675.1,785.2 677.3,797.3 680,772.3 682.8,780.7 685.7,805.1 687.9,830.5 690.6,795.1 693.2,816.2 696.1,795.1 699,794 701.7,785.2 704.3,754.2 707.2,754.6 710.1,748.7 712.7,737.6 716,731 718.3,723.2 720.5,703.7" fill="none" stroke="#111" stroke-width="2" stroke-linejoin="round"/></g><ellipse cx="719.5" cy="718.5" rx="15.3" ry="29.8" fill="none" stroke="#2b2bb0" stroke-width="2"/><rect x="16.3" y="700.3" width="7" height="2" fill="#111"/><text x="26.9" y="704.4" font-size="8.8" textLength="94.8" lengthAdjust="spacing" fill="#333">$DJUSSC:$SPX 3.69</text><rect x="13.5" y="24.5" width="712.0" height="112.0" fill="none" stroke="#9a9ca6" stroke-width="1"/><rect x="13.5" y="136.5" width="712.0" height="322.0" fill="none" stroke="#9a9ca6" stroke-width="1"/><rect x="13.5" y="470.5" width="712.0" height="113.0" fill="none" stroke="#9a9ca6" stroke-width="1"/><rect x="13.5" y="583.5" width="712.0" height="112.0" fill="none" stroke="#9a9ca6" stroke-width="1"/><rect x="13.5" y="695.5" width="712.0" height="322.0" fill="none" stroke="#9a9ca6" stroke-width="1"/><path d="M726 30.5H728.3M726 42.5H728.3M726 54.5H728.3M726 66.5H728.3M726 78.5H728.3M726 90.5H728.3M726 102.5H728.3M726 114.5H728.3M726 127.5H728.3M726 430.5H728.3M726 396.5H728.3M726 367.5H728.3M726 342.5H728.3M726 320.5H728.3M726 300.5H728.3M726 282.5H728.3M726 265.5H728.3M726 250.5H728.3M726 236.5H728.3M726 223.5H728.3M726 211.5H728.3M726 200.5H728.3M726 189.5H728.3M726 179.5H728.3M726 169.5H728.3M726 160.5H728.3M726 151.5H728.3M726 143.5H728.3M726 562.5H728.3M726 542.5H728.3M726 522.5H728.3M726 501.5H728.3M726 481.5H728.3M726 600.5H728.3M726 620.5H728.3M726 640.5H728.3M726 660.5H728.3M726 680.5H728.3M726 1008.5H728.3M726 995.5H728.3M726 982.5H728.3M726 968.5H728.3M726 955.5H728.3M726 942.5H728.3M726 928.5H728.3M726 915.5H728.3M726 902.5H728.3M726 888.5H728.3M726 875.5H728.3M726 862.5H728.3M726 848.5H728.3M726 835.5H728.3M726 822.5H728.3M726 808.5H728.3M726 795.5H728.3M726 782.5H728.3M726 768.5H728.3M726 755.5H728.3M726 742.5H728.3M726 728.5H728.3M726 715.5H728.3M726 702.5H728.3" stroke="#8a8c94" stroke-width="1" fill="none"/><g font-size="8.8" fill="#222" stroke="#222" stroke-width="0.25"><text x="746" y="32.78" text-anchor="end">12.5</text><text x="746" y="44.9" text-anchor="end">10.0</text><text x="746" y="57.03" text-anchor="end">7.5</text><text x="746" y="69.15" text-anchor="end">5.0</text><text x="746" y="81.28" text-anchor="end">2.5</text><text x="746" y="93.4" text-anchor="end">0.0</text><text x="746" y="105.53" text-anchor="end">-2.5</text><text x="746" y="117.65" text-anchor="end">-5.0</text><text x="746" y="129.78" text-anchor="end">-7.5</text><text x="754" y="433.59" text-anchor="end">5000</text><text x="754" y="399.24" text-anchor="end">6000</text><text x="754" y="370.2" text-anchor="end">7000</text><text x="754" y="345.04" text-anchor="end">8000</text><text x="754" y="322.85" text-anchor="end">9000</text><text x="754" y="303" text-anchor="end">10000</text><text x="754" y="285.04" text-anchor="end">11000</text><text x="754" y="268.65" text-anchor="end">12000</text><text x="754" y="253.57" text-anchor="end">13000</text><text x="754" y="239.61" text-anchor="end">14000</text><text x="754" y="226.61" text-anchor="end">15000</text><text x="754" y="214.45" text-anchor="end">16000</text><text x="754" y="203.03" text-anchor="end">17000</text><text x="754" y="192.26" text-anchor="end">18000</text><text x="754" y="182.07" text-anchor="end">19000</text><text x="754" y="172.41" text-anchor="end">20000</text><text x="754" y="163.22" text-anchor="end">21000</text><text x="754" y="154.45" text-anchor="end">22000</text><text x="754" y="146.08" text-anchor="end">23000</text><text x="749.3" y="564.9" text-anchor="end">100B</text><text x="749.3" y="544.8" text-anchor="end">200B</text><text x="749.3" y="524.7" text-anchor="end">300B</text><text x="749.3" y="504.6" text-anchor="end">400B</text><text x="749.3" y="484.5" text-anchor="end">500B</text><text x="739" y="602.7" text-anchor="end">90</text><text x="739" y="622.7" text-anchor="end">70</text><text x="739" y="642.7" text-anchor="end">50</text><text x="739" y="662.7" text-anchor="end">30</text><text x="739" y="682.7" text-anchor="end">10</text><text x="740.5" y="1011.52" text-anchor="end">1.4</text><text x="740.5" y="998.18" text-anchor="end">1.5</text><text x="740.5" y="984.84" text-anchor="end">1.6</text><text x="740.5" y="971.5" text-anchor="end">1.7</text><text x="740.5" y="958.16" text-anchor="end">1.8</text><text x="740.5" y="944.82" text-anchor="end">1.9</text><text x="740.5" y="931.48" text-anchor="end">2.0</text><text x="740.5" y="918.14" text-anchor="end">2.1</text><text x="740.5" y="904.8" text-anchor="end">2.2</text><text x="740.5" y="891.46" text-anchor="end">2.3</text><text x="740.5" y="878.12" text-anchor="end">2.4</text><text x="740.5" y="864.78" text-anchor="end">2.5</text><text x="740.5" y="851.44" text-anchor="end">2.6</text><text x="740.5" y="838.1" text-anchor="end">2.7</text><text x="740.5" y="824.76" text-anchor="end">2.8</text><text x="740.5" y="811.42" text-anchor="end">2.9</text><text x="740.5" y="798.08" text-anchor="end">3.0</text><text x="740.5" y="784.74" text-anchor="end">3.1</text><text x="740.5" y="771.4" text-anchor="end">3.2</text><text x="740.5" y="758.06" text-anchor="end">3.3</text><text x="740.5" y="744.72" text-anchor="end">3.4</text><text x="740.5" y="731.38" text-anchor="end">3.5</text><text x="740.5" y="718.04" text-anchor="end">3.6</text><text x="740.5" y="704.7" text-anchor="end">3.7</text></g><g stroke="#888" stroke-width="1"></g><g font-size="8.8" fill="#222" stroke="#222" stroke-width="0.25"><text x="20.5" y="467.4" text-anchor="middle">Jul</text><text x="55.1" y="467.4" text-anchor="middle">Oct</text><text x="90.27" y="467.4" text-anchor="middle" font-weight="bold" font-size="9.8">21</text><text x="125.43" y="467.4" text-anchor="middle">Apr</text><text x="160.6" y="467.4" text-anchor="middle">Jul</text><text x="195.77" y="467.4" text-anchor="middle">Oct</text><text x="230.94" y="467.4" text-anchor="middle" font-weight="bold" font-size="9.8">22</text><text x="266.11" y="467.4" text-anchor="middle">Apr</text><text x="301.28" y="467.4" text-anchor="middle">Jul</text><text x="336.45" y="467.4" text-anchor="middle">Oct</text><text x="371.62" y="467.4" text-anchor="middle" font-weight="bold" font-size="9.8">23</text><text x="406.79" y="467.4" text-anchor="middle">Apr</text><text x="441.95" y="467.4" text-anchor="middle">Jul</text><text x="477.12" y="467.4" text-anchor="middle">Oct</text><text x="512.29" y="467.4" text-anchor="middle" font-weight="bold" font-size="9.8">24</text><text x="547.46" y="467.4" text-anchor="middle">Apr</text><text x="582.63" y="467.4" text-anchor="middle">Jul</text><text x="620.5" y="467.4" text-anchor="middle">Oct</text><text x="655.67" y="467.4" text-anchor="middle" font-weight="bold" font-size="9.8">25</text><text x="690.84" y="467.4" text-anchor="middle">Apr</text><text x="20.5" y="1025.6" text-anchor="middle">Jul</text><text x="55.1" y="1025.6" text-anchor="middle">Oct</text><text x="90.27" y="1025.6" text-anchor="middle" font-weight="bold" font-size="9.8">21</text><text x="125.43" y="1025.6" text-anchor="middle">Apr</text><text x="160.6" y="1025.6" text-anchor="middle">Jul</text><text x="195.77" y="1025.6" text-anchor="middle">Oct</text><text x="230.94" y="1025.6" text-anchor="middle" font-weight="bold" font-size="9.8">22</text><text x="266.11" y="1025.6" text-anchor="middle">Apr</text><text x="301.28" y="1025.6" text-anchor="middle">Jul</text><text x="336.45" y="1025.6" text-anchor="middle">Oct</text><text x="371.62" y="1025.6" text-anchor="middle" font-weight="bold" font-size="9.8">23</text><text x="406.79" y="1025.6" text-anchor="middle">Apr</text><text x="441.95" y="1025.6" text-anchor="middle">Jul</text><text x="477.12" y="1025.6" text-anchor="middle">Oct</text><text x="512.29" y="1025.6" text-anchor="middle" font-weight="bold" font-size="9.8">24</text><text x="547.46" y="1025.6" text-anchor="middle">Apr</text><text x="582.63" y="1025.6" text-anchor="middle">Jul</text><text x="620.5" y="1025.6" text-anchor="middle">Oct</text><text x="655.67" y="1025.6" text-anchor="middle" font-weight="bold" font-size="9.8">25</text><text x="690.84" y="1025.6" text-anchor="middle">Apr</text></g><text x="13.5" y="12" font-size="12.4" textLength="50" lengthAdjust="spacingAndGlyphs" font-weight="bold" fill="#1a1a1a" stroke="#1a1a1a" stroke-width="0.3">$DJUSSC</text><text x="66.4" y="11.6" font-size="9.8" textLength="155.6" lengthAdjust="spacingAndGlyphs" fill="#333">Dow Jones US Semiconductors Index</text><text x="226.6" y="11.6" font-size="8" textLength="19.9" lengthAdjust="spacingAndGlyphs" fill="#333">INDX</text><text x="13.5" y="22" font-size="9.2" textLength="88" lengthAdjust="spacingAndGlyphs" fill="#222">27-Jun-2025 12:53pm</text><text x="274.7" y="22.1" font-size="9" textLength="441.8" lengthAdjust="spacingAndGlyphs" fill="#333"><tspan font-weight="bold" fill="#111">Open</tspan> 20980.38  <tspan font-weight="bold" fill="#111">High</tspan> 22987.41  <tspan font-weight="bold" fill="#111">Low</tspan> 20806.84  <tspan font-weight="bold" fill="#111">Last</tspan> 22790.54  <tspan font-weight="bold" fill="#111">Volume</tspan> 211.5B  <tspan font-weight="bold" fill="#111">Chg</tspan> +1716.45 (+8.14%)</text><polygon points="718.9,22 721.5,18 724,22" fill="#9a9aa4"/><text x="649.4" y="11.3" font-size="9.3" textLength="76.5" lengthAdjust="spacingAndGlyphs" fill="#7a7a80">&#169;StockCharts.com</text></g></svg></body></html>
